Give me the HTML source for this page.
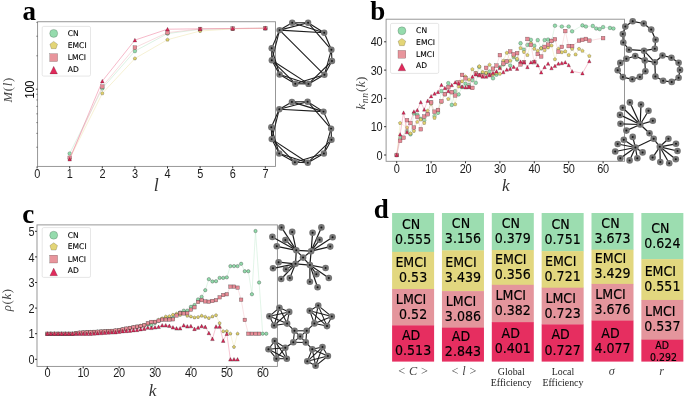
<!DOCTYPE html>
<html lang="en">
<head>
<meta charset="utf-8">
<title>Network metrics figure</title>
<style>
html,body{margin:0;padding:0;background:#fff;}
body{width:685px;height:398px;overflow:hidden;}
svg{display:block;}
</style>
</head>
<body>
<svg width="685" height="398" viewBox="0 0 685 398" role="img" aria-label="Network metrics for CN, EMCI, LMCI and AD groups">
<rect width="685" height="398" fill="#fff"/>
<g id="panel-a">
<rect x="37.6" y="21.75" width="237.85" height="144.65" fill="none" stroke="#8c8c8c" stroke-width="0.9"/>
<line x1="37.10" y1="166.4" x2="37.10" y2="168.4" stroke="#1a1a1a" stroke-width="0.9"/>
<text transform="translate(37.10,178.2) scale(0.92,1)" text-anchor="middle" letter-spacing="-0.3" font-family='"Liberation Sans","DejaVu Sans",sans-serif' font-size="11.9" fill="#1c1c1c">0</text>
<line x1="69.70" y1="166.4" x2="69.70" y2="168.4" stroke="#1a1a1a" stroke-width="0.9"/>
<text transform="translate(69.70,178.2) scale(0.92,1)" text-anchor="middle" letter-spacing="-0.3" font-family='"Liberation Sans","DejaVu Sans",sans-serif' font-size="11.9" fill="#1c1c1c">1</text>
<line x1="102.30" y1="166.4" x2="102.30" y2="168.4" stroke="#1a1a1a" stroke-width="0.9"/>
<text transform="translate(102.30,178.2) scale(0.92,1)" text-anchor="middle" letter-spacing="-0.3" font-family='"Liberation Sans","DejaVu Sans",sans-serif' font-size="11.9" fill="#1c1c1c">2</text>
<line x1="134.90" y1="166.4" x2="134.90" y2="168.4" stroke="#1a1a1a" stroke-width="0.9"/>
<text transform="translate(134.90,178.2) scale(0.92,1)" text-anchor="middle" letter-spacing="-0.3" font-family='"Liberation Sans","DejaVu Sans",sans-serif' font-size="11.9" fill="#1c1c1c">3</text>
<line x1="167.50" y1="166.4" x2="167.50" y2="168.4" stroke="#1a1a1a" stroke-width="0.9"/>
<text transform="translate(167.50,178.2) scale(0.92,1)" text-anchor="middle" letter-spacing="-0.3" font-family='"Liberation Sans","DejaVu Sans",sans-serif' font-size="11.9" fill="#1c1c1c">4</text>
<line x1="200.10" y1="166.4" x2="200.10" y2="168.4" stroke="#1a1a1a" stroke-width="0.9"/>
<text transform="translate(200.10,178.2) scale(0.92,1)" text-anchor="middle" letter-spacing="-0.3" font-family='"Liberation Sans","DejaVu Sans",sans-serif' font-size="11.9" fill="#1c1c1c">5</text>
<line x1="232.70" y1="166.4" x2="232.70" y2="168.4" stroke="#1a1a1a" stroke-width="0.9"/>
<text transform="translate(232.70,178.2) scale(0.92,1)" text-anchor="middle" letter-spacing="-0.3" font-family='"Liberation Sans","DejaVu Sans",sans-serif' font-size="11.9" fill="#1c1c1c">6</text>
<line x1="265.30" y1="166.4" x2="265.30" y2="168.4" stroke="#1a1a1a" stroke-width="0.9"/>
<text transform="translate(265.30,178.2) scale(0.92,1)" text-anchor="middle" letter-spacing="-0.3" font-family='"Liberation Sans","DejaVu Sans",sans-serif' font-size="11.9" fill="#1c1c1c">7</text>
<line x1="36.300000000000004" y1="147.24" x2="37.6" y2="147.24" stroke="#333" stroke-width="0.6"/>
<line x1="36.300000000000004" y1="133.37" x2="37.6" y2="133.37" stroke="#333" stroke-width="0.6"/>
<line x1="36.300000000000004" y1="122.61" x2="37.6" y2="122.61" stroke="#333" stroke-width="0.6"/>
<line x1="36.300000000000004" y1="113.83" x2="37.6" y2="113.83" stroke="#333" stroke-width="0.6"/>
<line x1="36.300000000000004" y1="106.39" x2="37.6" y2="106.39" stroke="#333" stroke-width="0.6"/>
<line x1="36.300000000000004" y1="99.96" x2="37.6" y2="99.96" stroke="#333" stroke-width="0.6"/>
<line x1="36.300000000000004" y1="94.28" x2="37.6" y2="94.28" stroke="#333" stroke-width="0.6"/>
<line x1="36.300000000000004" y1="55.79" x2="37.6" y2="55.79" stroke="#333" stroke-width="0.6"/>
<line x1="36.300000000000004" y1="36.24" x2="37.6" y2="36.24" stroke="#333" stroke-width="0.6"/>
<line x1="36.300000000000004" y1="22.37" x2="37.6" y2="22.37" stroke="#333" stroke-width="0.6"/>
<line x1="35.9" y1="89.20" x2="37.6" y2="89.20" stroke="#222" stroke-width="0.8"/>
<text transform="translate(33.8,89.7) rotate(-90) scale(0.92,1)" text-anchor="middle" font-family='"Liberation Sans","DejaVu Sans",sans-serif' font-size="11.9" letter-spacing="-0.3" fill="#000">100</text>
<text transform="translate(11.7,89.8) rotate(-90)" text-anchor="middle" letter-spacing="0.7" font-family='"Liberation Serif","DejaVu Serif",serif' font-style="italic" font-size="12.6" fill="#444">M<tspan font-style="normal">(</tspan>l<tspan font-style="normal">)</tspan></text>
<text x="156.2" y="191.3" text-anchor="middle" font-family='"Liberation Serif","DejaVu Serif",serif' font-style="italic" font-size="18" fill="#333">l</text>
<polyline points="69.70,153.50 102.30,88.40 134.90,51.10 167.50,33.60 200.10,29.30 232.70,28.60 265.30,28.20" fill="none" stroke="#bfe8cc" stroke-width="0.55"/>
<circle cx="69.70" cy="153.50" r="1.85" fill="#93dbac" stroke="#000" stroke-opacity="0.5" stroke-width="0.4"/>
<circle cx="102.30" cy="88.40" r="1.85" fill="#93dbac" stroke="#000" stroke-opacity="0.5" stroke-width="0.4"/>
<circle cx="134.90" cy="51.10" r="1.85" fill="#93dbac" stroke="#000" stroke-opacity="0.5" stroke-width="0.4"/>
<circle cx="167.50" cy="33.60" r="1.85" fill="#93dbac" stroke="#000" stroke-opacity="0.5" stroke-width="0.4"/>
<circle cx="200.10" cy="29.30" r="1.85" fill="#93dbac" stroke="#000" stroke-opacity="0.5" stroke-width="0.4"/>
<circle cx="232.70" cy="28.60" r="1.85" fill="#93dbac" stroke="#000" stroke-opacity="0.5" stroke-width="0.4"/>
<circle cx="265.30" cy="28.20" r="1.85" fill="#93dbac" stroke="#000" stroke-opacity="0.5" stroke-width="0.4"/>
<polyline points="69.70,158.60 102.30,93.40 134.90,58.50 167.50,39.70 200.10,31.00 232.70,28.90 265.30,28.30" fill="none" stroke="#eee6b0" stroke-width="0.55"/>
<polygon points="69.70,156.79 71.42,158.04 70.77,160.07 68.63,160.07 67.98,158.04" fill="#e2d26c" stroke="#000" stroke-opacity="0.5" stroke-width="0.4"/>
<polygon points="102.30,91.59 104.02,92.84 103.37,94.87 101.23,94.87 100.58,92.84" fill="#e2d26c" stroke="#000" stroke-opacity="0.5" stroke-width="0.4"/>
<polygon points="134.90,56.69 136.62,57.94 135.97,59.97 133.83,59.97 133.18,57.94" fill="#e2d26c" stroke="#000" stroke-opacity="0.5" stroke-width="0.4"/>
<polygon points="167.50,37.89 169.22,39.14 168.57,41.17 166.43,41.17 165.78,39.14" fill="#e2d26c" stroke="#000" stroke-opacity="0.5" stroke-width="0.4"/>
<polygon points="200.10,29.19 201.82,30.44 201.17,32.47 199.03,32.47 198.38,30.44" fill="#e2d26c" stroke="#000" stroke-opacity="0.5" stroke-width="0.4"/>
<polygon points="232.70,27.09 234.42,28.34 233.77,30.37 231.63,30.37 230.98,28.34" fill="#e2d26c" stroke="#000" stroke-opacity="0.5" stroke-width="0.4"/>
<polygon points="265.30,26.49 267.02,27.74 266.37,29.77 264.23,29.77 263.58,27.74" fill="#e2d26c" stroke="#000" stroke-opacity="0.5" stroke-width="0.4"/>
<polyline points="69.70,157.80 102.30,86.60 134.90,47.60 167.50,32.60 200.10,29.00 232.70,28.50 265.30,28.20" fill="none" stroke="#f2bfc4" stroke-width="0.55"/>
<rect x="67.85" y="155.95" width="3.70" height="3.70" fill="#e78b96" stroke="#000" stroke-opacity="0.5" stroke-width="0.4"/>
<rect x="100.45" y="84.75" width="3.70" height="3.70" fill="#e78b96" stroke="#000" stroke-opacity="0.5" stroke-width="0.4"/>
<rect x="133.05" y="45.75" width="3.70" height="3.70" fill="#e78b96" stroke="#000" stroke-opacity="0.5" stroke-width="0.4"/>
<rect x="165.65" y="30.75" width="3.70" height="3.70" fill="#e78b96" stroke="#000" stroke-opacity="0.5" stroke-width="0.4"/>
<rect x="198.25" y="27.15" width="3.70" height="3.70" fill="#e78b96" stroke="#000" stroke-opacity="0.5" stroke-width="0.4"/>
<rect x="230.85" y="26.65" width="3.70" height="3.70" fill="#e78b96" stroke="#000" stroke-opacity="0.5" stroke-width="0.4"/>
<rect x="263.45" y="26.35" width="3.70" height="3.70" fill="#e78b96" stroke="#000" stroke-opacity="0.5" stroke-width="0.4"/>
<polyline points="69.70,159.20 102.30,81.10 134.90,40.10 167.50,29.20 200.10,28.80 232.70,28.50 265.30,28.20" fill="none" stroke="#ee7f9c" stroke-width="0.55"/>
<polygon points="69.70,157.35 67.85,161.05 71.55,161.05" fill="#de2758" stroke="#000" stroke-opacity="0.5" stroke-width="0.4"/>
<polygon points="102.30,79.25 100.45,82.95 104.15,82.95" fill="#de2758" stroke="#000" stroke-opacity="0.5" stroke-width="0.4"/>
<polygon points="134.90,38.25 133.05,41.95 136.75,41.95" fill="#de2758" stroke="#000" stroke-opacity="0.5" stroke-width="0.4"/>
<polygon points="167.50,27.35 165.65,31.05 169.35,31.05" fill="#de2758" stroke="#000" stroke-opacity="0.5" stroke-width="0.4"/>
<polygon points="200.10,26.95 198.25,30.65 201.95,30.65" fill="#de2758" stroke="#000" stroke-opacity="0.5" stroke-width="0.4"/>
<polygon points="232.70,26.65 230.85,30.35 234.55,30.35" fill="#de2758" stroke="#000" stroke-opacity="0.5" stroke-width="0.4"/>
<polygon points="265.30,26.35 263.45,30.05 267.15,30.05" fill="#de2758" stroke="#000" stroke-opacity="0.5" stroke-width="0.4"/>
<rect x="42.2" y="26.4" width="48.3" height="49.699999999999996" rx="1.5" fill="#fff" fill-opacity="0.8" stroke="#dcdcdc" stroke-width="0.7"/>
<circle cx="53.70" cy="33.40" r="4.00" fill="#95dbad" stroke="#000" stroke-opacity="0.5" stroke-width="0.35"/>
<text transform="translate(67.8,35.84) scale(0.96,1)" font-family='"DejaVu Sans","Liberation Sans",sans-serif' font-size="7.9" fill="#000" stroke="#000" stroke-width="0.12">CN</text>
<polygon points="53.70,41.38 57.52,44.16 56.06,48.65 51.34,48.65 49.88,44.16" fill="#e3d577" stroke="#000" stroke-opacity="0.5" stroke-width="0.35"/>
<text transform="translate(67.8,47.84) scale(0.96,1)" font-family='"DejaVu Sans","Liberation Sans",sans-serif' font-size="7.9" fill="#000" stroke="#000" stroke-width="0.12">EMCI</text>
<rect x="49.80" y="53.70" width="7.80" height="7.80" fill="#e8959c" stroke="#000" stroke-opacity="0.5" stroke-width="0.35"/>
<text transform="translate(67.8,60.04) scale(0.96,1)" font-family='"DejaVu Sans","Liberation Sans",sans-serif' font-size="7.9" fill="#000" stroke="#000" stroke-width="0.12">LMCI</text>
<polygon points="53.70,66.30 49.90,73.90 57.50,73.90" fill="#e02a5b" stroke="#000" stroke-opacity="0.5" stroke-width="0.35"/>
<text transform="translate(67.8,71.54) scale(0.96,1)" font-family='"DejaVu Sans","Liberation Sans",sans-serif' font-size="7.9" fill="#000" stroke="#000" stroke-width="0.12">AD</text>
<text x="22.4" y="20.3" font-family='"Liberation Serif","DejaVu Serif",serif' font-weight="bold" font-size="27" fill="#000">a</text>
<line x1="292.2" y1="22.8" x2="308.1" y2="22.8" stroke="#1c1c1c" stroke-width="1.1"/>
<line x1="279.6" y1="30.1" x2="292.2" y2="22.8" stroke="#1c1c1c" stroke-width="1.1"/>
<line x1="279.6" y1="30.1" x2="308.1" y2="22.8" stroke="#1c1c1c" stroke-width="1.1"/>
<line x1="279.6" y1="30.1" x2="324.2" y2="32.8" stroke="#1c1c1c" stroke-width="1.1"/>
<line x1="292.2" y1="22.8" x2="324.2" y2="32.8" stroke="#1c1c1c" stroke-width="1.1"/>
<line x1="308.1" y1="22.8" x2="324.2" y2="32.8" stroke="#1c1c1c" stroke-width="1.1"/>
<line x1="308.1" y1="22.8" x2="331.4" y2="49.8" stroke="#1c1c1c" stroke-width="1.1"/>
<line x1="324.2" y1="32.8" x2="331.4" y2="49.8" stroke="#1c1c1c" stroke-width="1.1"/>
<line x1="279.6" y1="30.1" x2="271.7" y2="48.3" stroke="#1c1c1c" stroke-width="1.1"/>
<line x1="279.6" y1="30.1" x2="271.8" y2="60.3" stroke="#1c1c1c" stroke-width="1.1"/>
<line x1="279.6" y1="30.1" x2="324.4" y2="74.8" stroke="#1c1c1c" stroke-width="1.1"/>
<line x1="271.7" y1="48.3" x2="271.8" y2="60.3" stroke="#1c1c1c" stroke-width="1.1"/>
<line x1="271.7" y1="48.3" x2="279.6" y2="74.5" stroke="#1c1c1c" stroke-width="1.1"/>
<line x1="271.8" y1="60.3" x2="279.6" y2="74.5" stroke="#1c1c1c" stroke-width="1.1"/>
<line x1="271.8" y1="60.3" x2="295.3" y2="83.7" stroke="#1c1c1c" stroke-width="1.1"/>
<line x1="271.8" y1="60.3" x2="308.5" y2="83.9" stroke="#1c1c1c" stroke-width="1.1"/>
<line x1="279.6" y1="74.5" x2="295.3" y2="83.7" stroke="#1c1c1c" stroke-width="1.1"/>
<line x1="279.6" y1="74.5" x2="308.5" y2="83.9" stroke="#1c1c1c" stroke-width="1.1"/>
<line x1="295.3" y1="83.7" x2="308.5" y2="83.9" stroke="#1c1c1c" stroke-width="1.1"/>
<line x1="295.3" y1="83.7" x2="324.4" y2="74.8" stroke="#1c1c1c" stroke-width="1.1"/>
<line x1="308.5" y1="83.9" x2="324.4" y2="74.8" stroke="#1c1c1c" stroke-width="1.1"/>
<line x1="308.5" y1="83.9" x2="332" y2="61" stroke="#1c1c1c" stroke-width="1.1"/>
<line x1="324.4" y1="74.8" x2="332" y2="61" stroke="#1c1c1c" stroke-width="1.1"/>
<line x1="324.4" y1="74.8" x2="331.4" y2="49.8" stroke="#1c1c1c" stroke-width="1.1"/>
<line x1="332" y1="61" x2="331.4" y2="49.8" stroke="#1c1c1c" stroke-width="1.1"/>
<circle cx="292.2" cy="22.8" r="3.2" fill="#757575"/>
<circle cx="292.2" cy="22.8" r="0.96" fill="#161616"/>
<circle cx="308.1" cy="22.8" r="3.2" fill="#757575"/>
<circle cx="308.1" cy="22.8" r="0.96" fill="#161616"/>
<circle cx="279.6" cy="30.1" r="3.2" fill="#757575"/>
<circle cx="279.6" cy="30.1" r="0.96" fill="#161616"/>
<circle cx="324.2" cy="32.8" r="3.2" fill="#757575"/>
<circle cx="324.2" cy="32.8" r="0.96" fill="#161616"/>
<circle cx="271.7" cy="48.3" r="3.2" fill="#757575"/>
<circle cx="271.7" cy="48.3" r="0.96" fill="#161616"/>
<circle cx="331.4" cy="49.8" r="3.2" fill="#757575"/>
<circle cx="331.4" cy="49.8" r="0.96" fill="#161616"/>
<circle cx="271.8" cy="60.3" r="3.2" fill="#757575"/>
<circle cx="271.8" cy="60.3" r="0.96" fill="#161616"/>
<circle cx="332" cy="61" r="3.2" fill="#757575"/>
<circle cx="332" cy="61" r="0.96" fill="#161616"/>
<circle cx="279.6" cy="74.5" r="3.2" fill="#757575"/>
<circle cx="279.6" cy="74.5" r="0.96" fill="#161616"/>
<circle cx="324.4" cy="74.8" r="3.2" fill="#757575"/>
<circle cx="324.4" cy="74.8" r="0.96" fill="#161616"/>
<circle cx="295.3" cy="83.7" r="3.2" fill="#757575"/>
<circle cx="295.3" cy="83.7" r="0.96" fill="#161616"/>
<circle cx="308.5" cy="83.9" r="3.2" fill="#757575"/>
<circle cx="308.5" cy="83.9" r="0.96" fill="#161616"/>
<line x1="291.9" y1="101.9" x2="307.6" y2="101.7" stroke="#1c1c1c" stroke-width="1.1"/>
<line x1="279.3" y1="109.2" x2="291.9" y2="101.9" stroke="#1c1c1c" stroke-width="1.1"/>
<line x1="279.3" y1="109.2" x2="307.6" y2="101.7" stroke="#1c1c1c" stroke-width="1.1"/>
<line x1="279.3" y1="109.2" x2="323.5" y2="111.6" stroke="#1c1c1c" stroke-width="1.1"/>
<line x1="291.9" y1="101.9" x2="323.5" y2="111.6" stroke="#1c1c1c" stroke-width="1.1"/>
<line x1="307.6" y1="101.7" x2="323.5" y2="111.6" stroke="#1c1c1c" stroke-width="1.1"/>
<line x1="307.6" y1="101.7" x2="331.1" y2="128.6" stroke="#1c1c1c" stroke-width="1.1"/>
<line x1="323.5" y1="111.6" x2="331.1" y2="128.6" stroke="#1c1c1c" stroke-width="1.1"/>
<line x1="279.3" y1="109.2" x2="271.3" y2="127.3" stroke="#1c1c1c" stroke-width="1.1"/>
<line x1="279.3" y1="109.2" x2="271.7" y2="139.1" stroke="#1c1c1c" stroke-width="1.1"/>
<line x1="271.3" y1="127.3" x2="271.7" y2="139.1" stroke="#1c1c1c" stroke-width="1.1"/>
<line x1="271.3" y1="127.3" x2="279.2" y2="153.5" stroke="#1c1c1c" stroke-width="1.1"/>
<line x1="271.7" y1="139.1" x2="279.2" y2="153.5" stroke="#1c1c1c" stroke-width="1.1"/>
<line x1="271.7" y1="139.1" x2="294.9" y2="162.3" stroke="#1c1c1c" stroke-width="1.1"/>
<line x1="271.7" y1="139.1" x2="307.8" y2="162.7" stroke="#1c1c1c" stroke-width="1.1"/>
<line x1="279.2" y1="153.5" x2="294.9" y2="162.3" stroke="#1c1c1c" stroke-width="1.1"/>
<line x1="279.2" y1="153.5" x2="307.8" y2="162.7" stroke="#1c1c1c" stroke-width="1.1"/>
<line x1="294.9" y1="162.3" x2="307.8" y2="162.7" stroke="#1c1c1c" stroke-width="1.1"/>
<line x1="294.9" y1="162.3" x2="323.9" y2="153.5" stroke="#1c1c1c" stroke-width="1.1"/>
<line x1="307.8" y1="162.7" x2="323.9" y2="153.5" stroke="#1c1c1c" stroke-width="1.1"/>
<line x1="307.8" y1="162.7" x2="331.5" y2="139.8" stroke="#1c1c1c" stroke-width="1.1"/>
<line x1="323.9" y1="153.5" x2="331.5" y2="139.8" stroke="#1c1c1c" stroke-width="1.1"/>
<line x1="323.9" y1="153.5" x2="331.1" y2="128.6" stroke="#1c1c1c" stroke-width="1.1"/>
<line x1="331.5" y1="139.8" x2="331.1" y2="128.6" stroke="#1c1c1c" stroke-width="1.1"/>
<circle cx="291.9" cy="101.9" r="3.2" fill="#757575"/>
<circle cx="291.9" cy="101.9" r="0.96" fill="#161616"/>
<circle cx="307.6" cy="101.7" r="3.2" fill="#757575"/>
<circle cx="307.6" cy="101.7" r="0.96" fill="#161616"/>
<circle cx="279.3" cy="109.2" r="3.2" fill="#757575"/>
<circle cx="279.3" cy="109.2" r="0.96" fill="#161616"/>
<circle cx="323.5" cy="111.6" r="3.2" fill="#757575"/>
<circle cx="323.5" cy="111.6" r="0.96" fill="#161616"/>
<circle cx="271.3" cy="127.3" r="3.2" fill="#757575"/>
<circle cx="271.3" cy="127.3" r="0.96" fill="#161616"/>
<circle cx="331.1" cy="128.6" r="3.2" fill="#757575"/>
<circle cx="331.1" cy="128.6" r="0.96" fill="#161616"/>
<circle cx="271.7" cy="139.1" r="3.2" fill="#757575"/>
<circle cx="271.7" cy="139.1" r="0.96" fill="#161616"/>
<circle cx="331.5" cy="139.8" r="3.2" fill="#757575"/>
<circle cx="331.5" cy="139.8" r="0.96" fill="#161616"/>
<circle cx="279.2" cy="153.5" r="3.2" fill="#757575"/>
<circle cx="279.2" cy="153.5" r="0.96" fill="#161616"/>
<circle cx="323.9" cy="153.5" r="3.2" fill="#757575"/>
<circle cx="323.9" cy="153.5" r="0.96" fill="#161616"/>
<circle cx="294.9" cy="162.3" r="3.2" fill="#757575"/>
<circle cx="294.9" cy="162.3" r="0.96" fill="#161616"/>
<circle cx="307.8" cy="162.7" r="3.2" fill="#757575"/>
<circle cx="307.8" cy="162.7" r="0.96" fill="#161616"/>
</g>
<g id="panel-b">
<rect x="386.1" y="19.2" width="238.39999999999998" height="142.10000000000002" fill="none" stroke="#8c8c8c" stroke-width="0.9"/>
<line x1="396.70" y1="161.3" x2="396.70" y2="163.3" stroke="#1a1a1a" stroke-width="0.9"/>
<text transform="translate(396.70,173.2) scale(0.92,1)" text-anchor="middle" letter-spacing="-0.3" font-family='"Liberation Sans","DejaVu Sans",sans-serif' font-size="11.9" fill="#1c1c1c">0</text>
<line x1="431.10" y1="161.3" x2="431.10" y2="163.3" stroke="#1a1a1a" stroke-width="0.9"/>
<text transform="translate(431.10,173.2) scale(0.92,1)" text-anchor="middle" letter-spacing="-0.3" font-family='"Liberation Sans","DejaVu Sans",sans-serif' font-size="11.9" fill="#1c1c1c">10</text>
<line x1="465.50" y1="161.3" x2="465.50" y2="163.3" stroke="#1a1a1a" stroke-width="0.9"/>
<text transform="translate(465.50,173.2) scale(0.92,1)" text-anchor="middle" letter-spacing="-0.3" font-family='"Liberation Sans","DejaVu Sans",sans-serif' font-size="11.9" fill="#1c1c1c">20</text>
<line x1="499.90" y1="161.3" x2="499.90" y2="163.3" stroke="#1a1a1a" stroke-width="0.9"/>
<text transform="translate(499.90,173.2) scale(0.92,1)" text-anchor="middle" letter-spacing="-0.3" font-family='"Liberation Sans","DejaVu Sans",sans-serif' font-size="11.9" fill="#1c1c1c">30</text>
<line x1="534.30" y1="161.3" x2="534.30" y2="163.3" stroke="#1a1a1a" stroke-width="0.9"/>
<text transform="translate(534.30,173.2) scale(0.92,1)" text-anchor="middle" letter-spacing="-0.3" font-family='"Liberation Sans","DejaVu Sans",sans-serif' font-size="11.9" fill="#1c1c1c">40</text>
<line x1="568.70" y1="161.3" x2="568.70" y2="163.3" stroke="#1a1a1a" stroke-width="0.9"/>
<text transform="translate(568.70,173.2) scale(0.92,1)" text-anchor="middle" letter-spacing="-0.3" font-family='"Liberation Sans","DejaVu Sans",sans-serif' font-size="11.9" fill="#1c1c1c">50</text>
<line x1="603.10" y1="161.3" x2="603.10" y2="163.3" stroke="#1a1a1a" stroke-width="0.9"/>
<text transform="translate(603.10,173.2) scale(0.92,1)" text-anchor="middle" letter-spacing="-0.3" font-family='"Liberation Sans","DejaVu Sans",sans-serif' font-size="11.9" fill="#1c1c1c">60</text>
<line x1="384.1" y1="155.00" x2="386.1" y2="155.00" stroke="#1a1a1a" stroke-width="0.9"/>
<text transform="translate(382.3,159.62) scale(0.92,1)" text-anchor="end" letter-spacing="-0.3" font-family='"Liberation Sans","DejaVu Sans",sans-serif' font-size="11.9" fill="#1c1c1c">0</text>
<line x1="384.1" y1="126.70" x2="386.1" y2="126.70" stroke="#1a1a1a" stroke-width="0.9"/>
<text transform="translate(382.3,131.32) scale(0.92,1)" text-anchor="end" letter-spacing="-0.3" font-family='"Liberation Sans","DejaVu Sans",sans-serif' font-size="11.9" fill="#1c1c1c">10</text>
<line x1="384.1" y1="98.40" x2="386.1" y2="98.40" stroke="#1a1a1a" stroke-width="0.9"/>
<text transform="translate(382.3,103.02) scale(0.92,1)" text-anchor="end" letter-spacing="-0.3" font-family='"Liberation Sans","DejaVu Sans",sans-serif' font-size="11.9" fill="#1c1c1c">20</text>
<line x1="384.1" y1="70.10" x2="386.1" y2="70.10" stroke="#1a1a1a" stroke-width="0.9"/>
<text transform="translate(382.3,74.72) scale(0.92,1)" text-anchor="end" letter-spacing="-0.3" font-family='"Liberation Sans","DejaVu Sans",sans-serif' font-size="11.9" fill="#1c1c1c">30</text>
<line x1="384.1" y1="41.80" x2="386.1" y2="41.80" stroke="#1a1a1a" stroke-width="0.9"/>
<text transform="translate(382.3,46.42) scale(0.92,1)" text-anchor="end" letter-spacing="-0.3" font-family='"Liberation Sans","DejaVu Sans",sans-serif' font-size="11.9" fill="#1c1c1c">40</text>
<text x="505.7" y="190.6" text-anchor="middle" font-family='"Liberation Serif","DejaVu Serif",serif' font-style="italic" font-size="17.2" fill="#333">k</text>
<text transform="translate(365.2,92.8) rotate(-90)" text-anchor="middle" letter-spacing="0.5" font-family='"Liberation Serif","DejaVu Serif",serif' font-style="italic" font-size="13" fill="#444">k<tspan font-size="9.6" dy="2.6" letter-spacing="0.8">nn</tspan><tspan font-style="normal" dy="-2.6">(</tspan>k<tspan font-style="normal">)</tspan></text>
<polyline points="396.70,155.00 400.14,138.02 407.02,130.94 410.46,134.34 413.90,113.40 417.34,114.81 420.78,118.78 424.22,120.19 427.66,113.97 431.10,102.36 434.54,115.95 437.98,112.83 441.42,91.04 444.86,94.16 448.30,83.12 451.74,104.91 455.18,91.04 458.62,94.44 462.06,87.08 465.50,83.68 468.94,84.82 472.38,80.29 475.82,82.83 479.26,66.99 482.70,72.93 486.14,72.93 489.58,71.52 493.02,78.31 496.46,74.63 499.90,67.27 503.34,64.44 506.78,61.61 510.22,65.57 513.66,57.08 517.10,59.63 520.54,43.22 523.98,49.72 527.42,44.91 530.86,39.82 534.30,45.76 537.74,40.10 541.18,48.31 544.62,40.10 548.06,39.54 551.50,40.95 554.94,25.67 561.82,26.52 568.70,26.52 572.14,31.33 582.46,25.39 585.90,26.52 592.78,25.95 596.22,28.50 599.66,29.06 603.10,27.08 609.98,27.93 613.42,28.50" fill="none" stroke="#bfe8cc" stroke-width="0.45"/>
<circle cx="396.70" cy="155.00" r="1.85" fill="#93dbac" stroke="#000" stroke-opacity="0.5" stroke-width="0.4"/>
<circle cx="400.14" cy="138.02" r="1.85" fill="#93dbac" stroke="#000" stroke-opacity="0.5" stroke-width="0.4"/>
<circle cx="407.02" cy="130.94" r="1.85" fill="#93dbac" stroke="#000" stroke-opacity="0.5" stroke-width="0.4"/>
<circle cx="410.46" cy="134.34" r="1.85" fill="#93dbac" stroke="#000" stroke-opacity="0.5" stroke-width="0.4"/>
<circle cx="413.90" cy="113.40" r="1.85" fill="#93dbac" stroke="#000" stroke-opacity="0.5" stroke-width="0.4"/>
<circle cx="417.34" cy="114.81" r="1.85" fill="#93dbac" stroke="#000" stroke-opacity="0.5" stroke-width="0.4"/>
<circle cx="420.78" cy="118.78" r="1.85" fill="#93dbac" stroke="#000" stroke-opacity="0.5" stroke-width="0.4"/>
<circle cx="424.22" cy="120.19" r="1.85" fill="#93dbac" stroke="#000" stroke-opacity="0.5" stroke-width="0.4"/>
<circle cx="427.66" cy="113.97" r="1.85" fill="#93dbac" stroke="#000" stroke-opacity="0.5" stroke-width="0.4"/>
<circle cx="431.10" cy="102.36" r="1.85" fill="#93dbac" stroke="#000" stroke-opacity="0.5" stroke-width="0.4"/>
<circle cx="434.54" cy="115.95" r="1.85" fill="#93dbac" stroke="#000" stroke-opacity="0.5" stroke-width="0.4"/>
<circle cx="437.98" cy="112.83" r="1.85" fill="#93dbac" stroke="#000" stroke-opacity="0.5" stroke-width="0.4"/>
<circle cx="441.42" cy="91.04" r="1.85" fill="#93dbac" stroke="#000" stroke-opacity="0.5" stroke-width="0.4"/>
<circle cx="444.86" cy="94.16" r="1.85" fill="#93dbac" stroke="#000" stroke-opacity="0.5" stroke-width="0.4"/>
<circle cx="448.30" cy="83.12" r="1.85" fill="#93dbac" stroke="#000" stroke-opacity="0.5" stroke-width="0.4"/>
<circle cx="451.74" cy="104.91" r="1.85" fill="#93dbac" stroke="#000" stroke-opacity="0.5" stroke-width="0.4"/>
<circle cx="455.18" cy="91.04" r="1.85" fill="#93dbac" stroke="#000" stroke-opacity="0.5" stroke-width="0.4"/>
<circle cx="458.62" cy="94.44" r="1.85" fill="#93dbac" stroke="#000" stroke-opacity="0.5" stroke-width="0.4"/>
<circle cx="462.06" cy="87.08" r="1.85" fill="#93dbac" stroke="#000" stroke-opacity="0.5" stroke-width="0.4"/>
<circle cx="465.50" cy="83.68" r="1.85" fill="#93dbac" stroke="#000" stroke-opacity="0.5" stroke-width="0.4"/>
<circle cx="468.94" cy="84.82" r="1.85" fill="#93dbac" stroke="#000" stroke-opacity="0.5" stroke-width="0.4"/>
<circle cx="472.38" cy="80.29" r="1.85" fill="#93dbac" stroke="#000" stroke-opacity="0.5" stroke-width="0.4"/>
<circle cx="475.82" cy="82.83" r="1.85" fill="#93dbac" stroke="#000" stroke-opacity="0.5" stroke-width="0.4"/>
<circle cx="479.26" cy="66.99" r="1.85" fill="#93dbac" stroke="#000" stroke-opacity="0.5" stroke-width="0.4"/>
<circle cx="482.70" cy="72.93" r="1.85" fill="#93dbac" stroke="#000" stroke-opacity="0.5" stroke-width="0.4"/>
<circle cx="486.14" cy="72.93" r="1.85" fill="#93dbac" stroke="#000" stroke-opacity="0.5" stroke-width="0.4"/>
<circle cx="489.58" cy="71.52" r="1.85" fill="#93dbac" stroke="#000" stroke-opacity="0.5" stroke-width="0.4"/>
<circle cx="493.02" cy="78.31" r="1.85" fill="#93dbac" stroke="#000" stroke-opacity="0.5" stroke-width="0.4"/>
<circle cx="496.46" cy="74.63" r="1.85" fill="#93dbac" stroke="#000" stroke-opacity="0.5" stroke-width="0.4"/>
<circle cx="499.90" cy="67.27" r="1.85" fill="#93dbac" stroke="#000" stroke-opacity="0.5" stroke-width="0.4"/>
<circle cx="503.34" cy="64.44" r="1.85" fill="#93dbac" stroke="#000" stroke-opacity="0.5" stroke-width="0.4"/>
<circle cx="506.78" cy="61.61" r="1.85" fill="#93dbac" stroke="#000" stroke-opacity="0.5" stroke-width="0.4"/>
<circle cx="510.22" cy="65.57" r="1.85" fill="#93dbac" stroke="#000" stroke-opacity="0.5" stroke-width="0.4"/>
<circle cx="513.66" cy="57.08" r="1.85" fill="#93dbac" stroke="#000" stroke-opacity="0.5" stroke-width="0.4"/>
<circle cx="517.10" cy="59.63" r="1.85" fill="#93dbac" stroke="#000" stroke-opacity="0.5" stroke-width="0.4"/>
<circle cx="520.54" cy="43.22" r="1.85" fill="#93dbac" stroke="#000" stroke-opacity="0.5" stroke-width="0.4"/>
<circle cx="523.98" cy="49.72" r="1.85" fill="#93dbac" stroke="#000" stroke-opacity="0.5" stroke-width="0.4"/>
<circle cx="527.42" cy="44.91" r="1.85" fill="#93dbac" stroke="#000" stroke-opacity="0.5" stroke-width="0.4"/>
<circle cx="530.86" cy="39.82" r="1.85" fill="#93dbac" stroke="#000" stroke-opacity="0.5" stroke-width="0.4"/>
<circle cx="534.30" cy="45.76" r="1.85" fill="#93dbac" stroke="#000" stroke-opacity="0.5" stroke-width="0.4"/>
<circle cx="537.74" cy="40.10" r="1.85" fill="#93dbac" stroke="#000" stroke-opacity="0.5" stroke-width="0.4"/>
<circle cx="541.18" cy="48.31" r="1.85" fill="#93dbac" stroke="#000" stroke-opacity="0.5" stroke-width="0.4"/>
<circle cx="544.62" cy="40.10" r="1.85" fill="#93dbac" stroke="#000" stroke-opacity="0.5" stroke-width="0.4"/>
<circle cx="548.06" cy="39.54" r="1.85" fill="#93dbac" stroke="#000" stroke-opacity="0.5" stroke-width="0.4"/>
<circle cx="551.50" cy="40.95" r="1.85" fill="#93dbac" stroke="#000" stroke-opacity="0.5" stroke-width="0.4"/>
<circle cx="554.94" cy="25.67" r="1.85" fill="#93dbac" stroke="#000" stroke-opacity="0.5" stroke-width="0.4"/>
<circle cx="561.82" cy="26.52" r="1.85" fill="#93dbac" stroke="#000" stroke-opacity="0.5" stroke-width="0.4"/>
<circle cx="568.70" cy="26.52" r="1.85" fill="#93dbac" stroke="#000" stroke-opacity="0.5" stroke-width="0.4"/>
<circle cx="572.14" cy="31.33" r="1.85" fill="#93dbac" stroke="#000" stroke-opacity="0.5" stroke-width="0.4"/>
<circle cx="582.46" cy="25.39" r="1.85" fill="#93dbac" stroke="#000" stroke-opacity="0.5" stroke-width="0.4"/>
<circle cx="585.90" cy="26.52" r="1.85" fill="#93dbac" stroke="#000" stroke-opacity="0.5" stroke-width="0.4"/>
<circle cx="592.78" cy="25.95" r="1.85" fill="#93dbac" stroke="#000" stroke-opacity="0.5" stroke-width="0.4"/>
<circle cx="596.22" cy="28.50" r="1.85" fill="#93dbac" stroke="#000" stroke-opacity="0.5" stroke-width="0.4"/>
<circle cx="599.66" cy="29.06" r="1.85" fill="#93dbac" stroke="#000" stroke-opacity="0.5" stroke-width="0.4"/>
<circle cx="603.10" cy="27.08" r="1.85" fill="#93dbac" stroke="#000" stroke-opacity="0.5" stroke-width="0.4"/>
<circle cx="609.98" cy="27.93" r="1.85" fill="#93dbac" stroke="#000" stroke-opacity="0.5" stroke-width="0.4"/>
<circle cx="613.42" cy="28.50" r="1.85" fill="#93dbac" stroke="#000" stroke-opacity="0.5" stroke-width="0.4"/>
<polyline points="396.70,155.00 400.14,123.02 407.02,127.55 410.46,133.49 413.90,130.94 417.34,121.89 420.78,119.62 424.22,123.02 427.66,110.85 431.10,103.78 434.54,117.93 437.98,110.00 441.42,102.08 444.86,94.44 448.30,98.97 451.74,92.46 455.18,104.34 458.62,86.51 462.06,81.42 465.50,76.61 468.94,79.72 472.38,69.25 475.82,72.93 479.26,66.42 482.70,72.08 486.14,72.93 489.58,64.72 493.02,74.63 496.46,72.93 499.90,73.78 503.34,60.76 506.78,52.84 510.22,60.76 513.66,55.95 517.10,58.78 520.54,48.03 523.98,51.99 527.42,55.10 530.86,43.22 534.30,48.88 537.74,50.86 541.18,48.31 544.62,50.29 548.06,47.46 551.50,45.48 554.94,59.35 558.38,48.88 561.82,52.27 565.26,51.42 568.70,55.10 572.14,48.88 575.58,54.53 579.02,48.88 582.46,50.86 589.34,55.95" fill="none" stroke="#eee6b0" stroke-width="0.45"/>
<polygon points="396.70,153.19 398.42,154.44 397.77,156.47 395.63,156.47 394.98,154.44" fill="#e2d26c" stroke="#000" stroke-opacity="0.5" stroke-width="0.4"/>
<polygon points="400.14,121.21 401.86,122.46 401.21,124.49 399.07,124.49 398.42,122.46" fill="#e2d26c" stroke="#000" stroke-opacity="0.5" stroke-width="0.4"/>
<polygon points="407.02,125.74 408.74,126.99 408.09,129.02 405.95,129.02 405.30,126.99" fill="#e2d26c" stroke="#000" stroke-opacity="0.5" stroke-width="0.4"/>
<polygon points="410.46,131.68 412.18,132.93 411.53,134.96 409.39,134.96 408.74,132.93" fill="#e2d26c" stroke="#000" stroke-opacity="0.5" stroke-width="0.4"/>
<polygon points="413.90,129.13 415.62,130.38 414.97,132.41 412.83,132.41 412.18,130.38" fill="#e2d26c" stroke="#000" stroke-opacity="0.5" stroke-width="0.4"/>
<polygon points="417.34,120.08 419.06,121.33 418.41,123.36 416.27,123.36 415.62,121.33" fill="#e2d26c" stroke="#000" stroke-opacity="0.5" stroke-width="0.4"/>
<polygon points="420.78,117.81 422.50,119.06 421.85,121.09 419.71,121.09 419.06,119.06" fill="#e2d26c" stroke="#000" stroke-opacity="0.5" stroke-width="0.4"/>
<polygon points="424.22,121.21 425.94,122.46 425.29,124.49 423.15,124.49 422.50,122.46" fill="#e2d26c" stroke="#000" stroke-opacity="0.5" stroke-width="0.4"/>
<polygon points="427.66,109.04 429.38,110.29 428.73,112.32 426.59,112.32 425.94,110.29" fill="#e2d26c" stroke="#000" stroke-opacity="0.5" stroke-width="0.4"/>
<polygon points="431.10,101.96 432.82,103.22 432.17,105.24 430.03,105.24 429.38,103.22" fill="#e2d26c" stroke="#000" stroke-opacity="0.5" stroke-width="0.4"/>
<polygon points="434.54,116.11 436.26,117.37 435.61,119.39 433.47,119.39 432.82,117.37" fill="#e2d26c" stroke="#000" stroke-opacity="0.5" stroke-width="0.4"/>
<polygon points="437.98,108.19 439.70,109.44 439.05,111.47 436.91,111.47 436.26,109.44" fill="#e2d26c" stroke="#000" stroke-opacity="0.5" stroke-width="0.4"/>
<polygon points="441.42,100.27 443.14,101.52 442.49,103.55 440.35,103.55 439.70,101.52" fill="#e2d26c" stroke="#000" stroke-opacity="0.5" stroke-width="0.4"/>
<polygon points="444.86,92.62 446.58,93.88 445.93,95.90 443.79,95.90 443.14,93.88" fill="#e2d26c" stroke="#000" stroke-opacity="0.5" stroke-width="0.4"/>
<polygon points="448.30,97.15 450.02,98.41 449.37,100.43 447.23,100.43 446.58,98.41" fill="#e2d26c" stroke="#000" stroke-opacity="0.5" stroke-width="0.4"/>
<polygon points="451.74,90.64 453.46,91.90 452.81,93.92 450.67,93.92 450.02,91.90" fill="#e2d26c" stroke="#000" stroke-opacity="0.5" stroke-width="0.4"/>
<polygon points="455.18,102.53 456.90,103.78 456.25,105.81 454.11,105.81 453.46,103.78" fill="#e2d26c" stroke="#000" stroke-opacity="0.5" stroke-width="0.4"/>
<polygon points="458.62,84.70 460.34,85.95 459.69,87.98 457.55,87.98 456.90,85.95" fill="#e2d26c" stroke="#000" stroke-opacity="0.5" stroke-width="0.4"/>
<polygon points="462.06,79.61 463.78,80.86 463.13,82.89 460.99,82.89 460.34,80.86" fill="#e2d26c" stroke="#000" stroke-opacity="0.5" stroke-width="0.4"/>
<polygon points="465.50,74.80 467.22,76.05 466.57,78.08 464.43,78.08 463.78,76.05" fill="#e2d26c" stroke="#000" stroke-opacity="0.5" stroke-width="0.4"/>
<polygon points="468.94,77.91 470.66,79.16 470.01,81.19 467.87,81.19 467.22,79.16" fill="#e2d26c" stroke="#000" stroke-opacity="0.5" stroke-width="0.4"/>
<polygon points="472.38,67.44 474.10,68.69 473.45,70.72 471.31,70.72 470.66,68.69" fill="#e2d26c" stroke="#000" stroke-opacity="0.5" stroke-width="0.4"/>
<polygon points="475.82,71.12 477.54,72.37 476.89,74.40 474.75,74.40 474.10,72.37" fill="#e2d26c" stroke="#000" stroke-opacity="0.5" stroke-width="0.4"/>
<polygon points="479.26,64.61 480.98,65.86 480.33,67.89 478.19,67.89 477.54,65.86" fill="#e2d26c" stroke="#000" stroke-opacity="0.5" stroke-width="0.4"/>
<polygon points="482.70,70.27 484.42,71.52 483.77,73.55 481.63,73.55 480.98,71.52" fill="#e2d26c" stroke="#000" stroke-opacity="0.5" stroke-width="0.4"/>
<polygon points="486.14,71.12 487.86,72.37 487.21,74.40 485.07,74.40 484.42,72.37" fill="#e2d26c" stroke="#000" stroke-opacity="0.5" stroke-width="0.4"/>
<polygon points="489.58,62.91 491.30,64.16 490.65,66.19 488.51,66.19 487.86,64.16" fill="#e2d26c" stroke="#000" stroke-opacity="0.5" stroke-width="0.4"/>
<polygon points="493.02,72.81 494.74,74.07 494.09,76.09 491.95,76.09 491.30,74.07" fill="#e2d26c" stroke="#000" stroke-opacity="0.5" stroke-width="0.4"/>
<polygon points="496.46,71.12 498.18,72.37 497.53,74.40 495.39,74.40 494.74,72.37" fill="#e2d26c" stroke="#000" stroke-opacity="0.5" stroke-width="0.4"/>
<polygon points="499.90,71.97 501.62,73.22 500.97,75.25 498.83,75.25 498.18,73.22" fill="#e2d26c" stroke="#000" stroke-opacity="0.5" stroke-width="0.4"/>
<polygon points="503.34,58.95 505.06,60.20 504.41,62.23 502.27,62.23 501.62,60.20" fill="#e2d26c" stroke="#000" stroke-opacity="0.5" stroke-width="0.4"/>
<polygon points="506.78,51.02 508.50,52.28 507.85,54.30 505.71,54.30 505.06,52.28" fill="#e2d26c" stroke="#000" stroke-opacity="0.5" stroke-width="0.4"/>
<polygon points="510.22,58.95 511.94,60.20 511.29,62.23 509.15,62.23 508.50,60.20" fill="#e2d26c" stroke="#000" stroke-opacity="0.5" stroke-width="0.4"/>
<polygon points="513.66,54.14 515.38,55.39 514.73,57.42 512.59,57.42 511.94,55.39" fill="#e2d26c" stroke="#000" stroke-opacity="0.5" stroke-width="0.4"/>
<polygon points="517.10,56.97 518.82,58.22 518.17,60.25 516.03,60.25 515.38,58.22" fill="#e2d26c" stroke="#000" stroke-opacity="0.5" stroke-width="0.4"/>
<polygon points="520.54,46.21 522.26,47.47 521.61,49.49 519.47,49.49 518.82,47.47" fill="#e2d26c" stroke="#000" stroke-opacity="0.5" stroke-width="0.4"/>
<polygon points="523.98,50.17 525.70,51.43 525.05,53.45 522.91,53.45 522.26,51.43" fill="#e2d26c" stroke="#000" stroke-opacity="0.5" stroke-width="0.4"/>
<polygon points="527.42,53.29 529.14,54.54 528.49,56.57 526.35,56.57 525.70,54.54" fill="#e2d26c" stroke="#000" stroke-opacity="0.5" stroke-width="0.4"/>
<polygon points="530.86,41.40 532.58,42.65 531.93,44.68 529.79,44.68 529.14,42.65" fill="#e2d26c" stroke="#000" stroke-opacity="0.5" stroke-width="0.4"/>
<polygon points="534.30,47.06 536.02,48.31 535.37,50.34 533.23,50.34 532.58,48.31" fill="#e2d26c" stroke="#000" stroke-opacity="0.5" stroke-width="0.4"/>
<polygon points="537.74,49.04 539.46,50.30 538.81,52.32 536.67,52.32 536.02,50.30" fill="#e2d26c" stroke="#000" stroke-opacity="0.5" stroke-width="0.4"/>
<polygon points="541.18,46.50 542.90,47.75 542.25,49.78 540.11,49.78 539.46,47.75" fill="#e2d26c" stroke="#000" stroke-opacity="0.5" stroke-width="0.4"/>
<polygon points="544.62,48.48 546.34,49.73 545.69,51.76 543.55,51.76 542.90,49.73" fill="#e2d26c" stroke="#000" stroke-opacity="0.5" stroke-width="0.4"/>
<polygon points="548.06,45.65 549.78,46.90 549.13,48.93 546.99,48.93 546.34,46.90" fill="#e2d26c" stroke="#000" stroke-opacity="0.5" stroke-width="0.4"/>
<polygon points="551.50,43.67 553.22,44.92 552.57,46.95 550.43,46.95 549.78,44.92" fill="#e2d26c" stroke="#000" stroke-opacity="0.5" stroke-width="0.4"/>
<polygon points="554.94,57.53 556.66,58.79 556.01,60.81 553.87,60.81 553.22,58.79" fill="#e2d26c" stroke="#000" stroke-opacity="0.5" stroke-width="0.4"/>
<polygon points="558.38,47.06 560.10,48.31 559.45,50.34 557.31,50.34 556.66,48.31" fill="#e2d26c" stroke="#000" stroke-opacity="0.5" stroke-width="0.4"/>
<polygon points="561.82,50.46 563.54,51.71 562.89,53.74 560.75,53.74 560.10,51.71" fill="#e2d26c" stroke="#000" stroke-opacity="0.5" stroke-width="0.4"/>
<polygon points="565.26,49.61 566.98,50.86 566.33,52.89 564.19,52.89 563.54,50.86" fill="#e2d26c" stroke="#000" stroke-opacity="0.5" stroke-width="0.4"/>
<polygon points="568.70,53.29 570.42,54.54 569.77,56.57 567.63,56.57 566.98,54.54" fill="#e2d26c" stroke="#000" stroke-opacity="0.5" stroke-width="0.4"/>
<polygon points="572.14,47.06 573.86,48.31 573.21,50.34 571.07,50.34 570.42,48.31" fill="#e2d26c" stroke="#000" stroke-opacity="0.5" stroke-width="0.4"/>
<polygon points="575.58,52.72 577.30,53.97 576.65,56.00 574.51,56.00 573.86,53.97" fill="#e2d26c" stroke="#000" stroke-opacity="0.5" stroke-width="0.4"/>
<polygon points="579.02,47.06 580.74,48.31 580.09,50.34 577.95,50.34 577.30,48.31" fill="#e2d26c" stroke="#000" stroke-opacity="0.5" stroke-width="0.4"/>
<polygon points="582.46,49.04 584.18,50.30 583.53,52.32 581.39,52.32 580.74,50.30" fill="#e2d26c" stroke="#000" stroke-opacity="0.5" stroke-width="0.4"/>
<polygon points="589.34,54.14 591.06,55.39 590.41,57.42 588.27,57.42 587.62,55.39" fill="#e2d26c" stroke="#000" stroke-opacity="0.5" stroke-width="0.4"/>
<polyline points="396.70,155.00 400.14,140.85 403.58,137.74 407.02,120.19 410.46,123.02 413.90,127.55 417.34,116.80 420.78,129.25 424.22,116.51 427.66,114.25 431.10,102.36 434.54,111.70 437.98,110.00 441.42,101.23 444.86,94.16 448.30,87.08 451.74,92.17 455.18,95.57 458.62,82.27 462.06,74.91 465.50,78.31 468.94,87.08 472.38,87.93 475.82,73.50 479.26,75.19 482.70,75.76 486.14,67.84 489.58,75.19 493.02,68.69 496.46,65.57 499.90,55.10 503.34,63.59 506.78,61.33 510.22,51.42 513.66,54.25 517.10,53.12 520.54,64.44 523.98,62.18 527.42,38.97 530.86,44.91 534.30,62.18 537.74,53.97 541.18,56.52 544.62,46.89 548.06,44.63 551.50,40.95 554.94,39.25 558.38,51.70 561.82,46.89 565.26,31.05 568.70,46.05 572.14,46.05 579.02,40.67 582.46,39.82 585.90,38.97 589.34,40.67 603.10,38.12" fill="none" stroke="#f2bfc4" stroke-width="0.45"/>
<rect x="394.85" y="153.15" width="3.70" height="3.70" fill="#e78b96" stroke="#000" stroke-opacity="0.5" stroke-width="0.4"/>
<rect x="398.29" y="139.00" width="3.70" height="3.70" fill="#e78b96" stroke="#000" stroke-opacity="0.5" stroke-width="0.4"/>
<rect x="401.73" y="135.89" width="3.70" height="3.70" fill="#e78b96" stroke="#000" stroke-opacity="0.5" stroke-width="0.4"/>
<rect x="405.17" y="118.34" width="3.70" height="3.70" fill="#e78b96" stroke="#000" stroke-opacity="0.5" stroke-width="0.4"/>
<rect x="408.61" y="121.17" width="3.70" height="3.70" fill="#e78b96" stroke="#000" stroke-opacity="0.5" stroke-width="0.4"/>
<rect x="412.05" y="125.70" width="3.70" height="3.70" fill="#e78b96" stroke="#000" stroke-opacity="0.5" stroke-width="0.4"/>
<rect x="415.49" y="114.95" width="3.70" height="3.70" fill="#e78b96" stroke="#000" stroke-opacity="0.5" stroke-width="0.4"/>
<rect x="418.93" y="127.40" width="3.70" height="3.70" fill="#e78b96" stroke="#000" stroke-opacity="0.5" stroke-width="0.4"/>
<rect x="422.37" y="114.66" width="3.70" height="3.70" fill="#e78b96" stroke="#000" stroke-opacity="0.5" stroke-width="0.4"/>
<rect x="425.81" y="112.40" width="3.70" height="3.70" fill="#e78b96" stroke="#000" stroke-opacity="0.5" stroke-width="0.4"/>
<rect x="429.25" y="100.51" width="3.70" height="3.70" fill="#e78b96" stroke="#000" stroke-opacity="0.5" stroke-width="0.4"/>
<rect x="432.69" y="109.85" width="3.70" height="3.70" fill="#e78b96" stroke="#000" stroke-opacity="0.5" stroke-width="0.4"/>
<rect x="436.13" y="108.15" width="3.70" height="3.70" fill="#e78b96" stroke="#000" stroke-opacity="0.5" stroke-width="0.4"/>
<rect x="439.57" y="99.38" width="3.70" height="3.70" fill="#e78b96" stroke="#000" stroke-opacity="0.5" stroke-width="0.4"/>
<rect x="443.01" y="92.31" width="3.70" height="3.70" fill="#e78b96" stroke="#000" stroke-opacity="0.5" stroke-width="0.4"/>
<rect x="446.45" y="85.23" width="3.70" height="3.70" fill="#e78b96" stroke="#000" stroke-opacity="0.5" stroke-width="0.4"/>
<rect x="449.89" y="90.32" width="3.70" height="3.70" fill="#e78b96" stroke="#000" stroke-opacity="0.5" stroke-width="0.4"/>
<rect x="453.33" y="93.72" width="3.70" height="3.70" fill="#e78b96" stroke="#000" stroke-opacity="0.5" stroke-width="0.4"/>
<rect x="456.77" y="80.42" width="3.70" height="3.70" fill="#e78b96" stroke="#000" stroke-opacity="0.5" stroke-width="0.4"/>
<rect x="460.21" y="73.06" width="3.70" height="3.70" fill="#e78b96" stroke="#000" stroke-opacity="0.5" stroke-width="0.4"/>
<rect x="463.65" y="76.46" width="3.70" height="3.70" fill="#e78b96" stroke="#000" stroke-opacity="0.5" stroke-width="0.4"/>
<rect x="467.09" y="85.23" width="3.70" height="3.70" fill="#e78b96" stroke="#000" stroke-opacity="0.5" stroke-width="0.4"/>
<rect x="470.53" y="86.08" width="3.70" height="3.70" fill="#e78b96" stroke="#000" stroke-opacity="0.5" stroke-width="0.4"/>
<rect x="473.97" y="71.65" width="3.70" height="3.70" fill="#e78b96" stroke="#000" stroke-opacity="0.5" stroke-width="0.4"/>
<rect x="477.41" y="73.34" width="3.70" height="3.70" fill="#e78b96" stroke="#000" stroke-opacity="0.5" stroke-width="0.4"/>
<rect x="480.85" y="73.91" width="3.70" height="3.70" fill="#e78b96" stroke="#000" stroke-opacity="0.5" stroke-width="0.4"/>
<rect x="484.29" y="65.99" width="3.70" height="3.70" fill="#e78b96" stroke="#000" stroke-opacity="0.5" stroke-width="0.4"/>
<rect x="487.73" y="73.34" width="3.70" height="3.70" fill="#e78b96" stroke="#000" stroke-opacity="0.5" stroke-width="0.4"/>
<rect x="491.17" y="66.84" width="3.70" height="3.70" fill="#e78b96" stroke="#000" stroke-opacity="0.5" stroke-width="0.4"/>
<rect x="494.61" y="63.72" width="3.70" height="3.70" fill="#e78b96" stroke="#000" stroke-opacity="0.5" stroke-width="0.4"/>
<rect x="498.05" y="53.25" width="3.70" height="3.70" fill="#e78b96" stroke="#000" stroke-opacity="0.5" stroke-width="0.4"/>
<rect x="501.49" y="61.74" width="3.70" height="3.70" fill="#e78b96" stroke="#000" stroke-opacity="0.5" stroke-width="0.4"/>
<rect x="504.93" y="59.48" width="3.70" height="3.70" fill="#e78b96" stroke="#000" stroke-opacity="0.5" stroke-width="0.4"/>
<rect x="508.37" y="49.57" width="3.70" height="3.70" fill="#e78b96" stroke="#000" stroke-opacity="0.5" stroke-width="0.4"/>
<rect x="511.81" y="52.40" width="3.70" height="3.70" fill="#e78b96" stroke="#000" stroke-opacity="0.5" stroke-width="0.4"/>
<rect x="515.25" y="51.27" width="3.70" height="3.70" fill="#e78b96" stroke="#000" stroke-opacity="0.5" stroke-width="0.4"/>
<rect x="518.69" y="62.59" width="3.70" height="3.70" fill="#e78b96" stroke="#000" stroke-opacity="0.5" stroke-width="0.4"/>
<rect x="522.13" y="60.33" width="3.70" height="3.70" fill="#e78b96" stroke="#000" stroke-opacity="0.5" stroke-width="0.4"/>
<rect x="525.57" y="37.12" width="3.70" height="3.70" fill="#e78b96" stroke="#000" stroke-opacity="0.5" stroke-width="0.4"/>
<rect x="529.01" y="43.06" width="3.70" height="3.70" fill="#e78b96" stroke="#000" stroke-opacity="0.5" stroke-width="0.4"/>
<rect x="532.45" y="60.33" width="3.70" height="3.70" fill="#e78b96" stroke="#000" stroke-opacity="0.5" stroke-width="0.4"/>
<rect x="535.89" y="52.12" width="3.70" height="3.70" fill="#e78b96" stroke="#000" stroke-opacity="0.5" stroke-width="0.4"/>
<rect x="539.33" y="54.67" width="3.70" height="3.70" fill="#e78b96" stroke="#000" stroke-opacity="0.5" stroke-width="0.4"/>
<rect x="542.77" y="45.04" width="3.70" height="3.70" fill="#e78b96" stroke="#000" stroke-opacity="0.5" stroke-width="0.4"/>
<rect x="546.21" y="42.78" width="3.70" height="3.70" fill="#e78b96" stroke="#000" stroke-opacity="0.5" stroke-width="0.4"/>
<rect x="549.65" y="39.10" width="3.70" height="3.70" fill="#e78b96" stroke="#000" stroke-opacity="0.5" stroke-width="0.4"/>
<rect x="553.09" y="37.40" width="3.70" height="3.70" fill="#e78b96" stroke="#000" stroke-opacity="0.5" stroke-width="0.4"/>
<rect x="556.53" y="49.85" width="3.70" height="3.70" fill="#e78b96" stroke="#000" stroke-opacity="0.5" stroke-width="0.4"/>
<rect x="559.97" y="45.04" width="3.70" height="3.70" fill="#e78b96" stroke="#000" stroke-opacity="0.5" stroke-width="0.4"/>
<rect x="563.41" y="29.20" width="3.70" height="3.70" fill="#e78b96" stroke="#000" stroke-opacity="0.5" stroke-width="0.4"/>
<rect x="566.85" y="44.20" width="3.70" height="3.70" fill="#e78b96" stroke="#000" stroke-opacity="0.5" stroke-width="0.4"/>
<rect x="570.29" y="44.20" width="3.70" height="3.70" fill="#e78b96" stroke="#000" stroke-opacity="0.5" stroke-width="0.4"/>
<rect x="577.17" y="38.82" width="3.70" height="3.70" fill="#e78b96" stroke="#000" stroke-opacity="0.5" stroke-width="0.4"/>
<rect x="580.61" y="37.97" width="3.70" height="3.70" fill="#e78b96" stroke="#000" stroke-opacity="0.5" stroke-width="0.4"/>
<rect x="584.05" y="37.12" width="3.70" height="3.70" fill="#e78b96" stroke="#000" stroke-opacity="0.5" stroke-width="0.4"/>
<rect x="587.49" y="38.82" width="3.70" height="3.70" fill="#e78b96" stroke="#000" stroke-opacity="0.5" stroke-width="0.4"/>
<rect x="601.25" y="36.27" width="3.70" height="3.70" fill="#e78b96" stroke="#000" stroke-opacity="0.5" stroke-width="0.4"/>
<polyline points="396.70,155.00 400.14,134.34 403.58,112.55 407.02,132.08 413.90,111.42 417.34,110.00 420.78,102.08 424.22,109.44 427.66,100.66 431.10,96.14 434.54,93.59 437.98,91.89 441.42,84.82 444.86,87.93 448.30,91.04 451.74,85.10 455.18,82.27 458.62,83.40 462.06,86.51 465.50,87.36 468.94,86.80 472.38,76.61 475.82,74.34 479.26,74.63 482.70,76.61 486.14,76.61 489.58,74.63 493.02,72.65 496.46,71.23 499.90,67.84 503.34,72.08 506.78,69.53 510.22,68.69 513.66,66.70 517.10,68.69 520.54,61.61 523.98,62.18 527.42,66.99 530.86,62.18 534.30,61.33 537.74,65.29 541.18,72.36 544.62,66.99 548.06,63.59 551.50,68.12 554.94,65.86 558.38,63.59 561.82,63.02 565.26,62.18 568.70,65.01 572.14,71.23 582.46,73.21 589.34,61.04" fill="none" stroke="#ee7f9c" stroke-width="0.45"/>
<polygon points="396.70,153.25 394.95,156.75 398.45,156.75" fill="#de2758" stroke="#000" stroke-opacity="0.5" stroke-width="0.4"/>
<polygon points="400.14,132.59 398.39,136.09 401.89,136.09" fill="#de2758" stroke="#000" stroke-opacity="0.5" stroke-width="0.4"/>
<polygon points="403.58,110.80 401.83,114.30 405.33,114.30" fill="#de2758" stroke="#000" stroke-opacity="0.5" stroke-width="0.4"/>
<polygon points="407.02,130.33 405.27,133.83 408.77,133.83" fill="#de2758" stroke="#000" stroke-opacity="0.5" stroke-width="0.4"/>
<polygon points="413.90,109.67 412.15,113.17 415.65,113.17" fill="#de2758" stroke="#000" stroke-opacity="0.5" stroke-width="0.4"/>
<polygon points="417.34,108.25 415.59,111.75 419.09,111.75" fill="#de2758" stroke="#000" stroke-opacity="0.5" stroke-width="0.4"/>
<polygon points="420.78,100.33 419.03,103.83 422.53,103.83" fill="#de2758" stroke="#000" stroke-opacity="0.5" stroke-width="0.4"/>
<polygon points="424.22,107.69 422.47,111.19 425.97,111.19" fill="#de2758" stroke="#000" stroke-opacity="0.5" stroke-width="0.4"/>
<polygon points="427.66,98.91 425.91,102.41 429.41,102.41" fill="#de2758" stroke="#000" stroke-opacity="0.5" stroke-width="0.4"/>
<polygon points="431.10,94.39 429.35,97.89 432.85,97.89" fill="#de2758" stroke="#000" stroke-opacity="0.5" stroke-width="0.4"/>
<polygon points="434.54,91.84 432.79,95.34 436.29,95.34" fill="#de2758" stroke="#000" stroke-opacity="0.5" stroke-width="0.4"/>
<polygon points="437.98,90.14 436.23,93.64 439.73,93.64" fill="#de2758" stroke="#000" stroke-opacity="0.5" stroke-width="0.4"/>
<polygon points="441.42,83.07 439.67,86.57 443.17,86.57" fill="#de2758" stroke="#000" stroke-opacity="0.5" stroke-width="0.4"/>
<polygon points="444.86,86.18 443.11,89.68 446.61,89.68" fill="#de2758" stroke="#000" stroke-opacity="0.5" stroke-width="0.4"/>
<polygon points="448.30,89.29 446.55,92.79 450.05,92.79" fill="#de2758" stroke="#000" stroke-opacity="0.5" stroke-width="0.4"/>
<polygon points="451.74,83.35 449.99,86.85 453.49,86.85" fill="#de2758" stroke="#000" stroke-opacity="0.5" stroke-width="0.4"/>
<polygon points="455.18,80.52 453.43,84.02 456.93,84.02" fill="#de2758" stroke="#000" stroke-opacity="0.5" stroke-width="0.4"/>
<polygon points="458.62,81.65 456.87,85.15 460.37,85.15" fill="#de2758" stroke="#000" stroke-opacity="0.5" stroke-width="0.4"/>
<polygon points="462.06,84.76 460.31,88.26 463.81,88.26" fill="#de2758" stroke="#000" stroke-opacity="0.5" stroke-width="0.4"/>
<polygon points="465.50,85.61 463.75,89.11 467.25,89.11" fill="#de2758" stroke="#000" stroke-opacity="0.5" stroke-width="0.4"/>
<polygon points="468.94,85.05 467.19,88.55 470.69,88.55" fill="#de2758" stroke="#000" stroke-opacity="0.5" stroke-width="0.4"/>
<polygon points="472.38,74.86 470.63,78.36 474.13,78.36" fill="#de2758" stroke="#000" stroke-opacity="0.5" stroke-width="0.4"/>
<polygon points="475.82,72.59 474.07,76.09 477.57,76.09" fill="#de2758" stroke="#000" stroke-opacity="0.5" stroke-width="0.4"/>
<polygon points="479.26,72.88 477.51,76.38 481.01,76.38" fill="#de2758" stroke="#000" stroke-opacity="0.5" stroke-width="0.4"/>
<polygon points="482.70,74.86 480.95,78.36 484.45,78.36" fill="#de2758" stroke="#000" stroke-opacity="0.5" stroke-width="0.4"/>
<polygon points="486.14,74.86 484.39,78.36 487.89,78.36" fill="#de2758" stroke="#000" stroke-opacity="0.5" stroke-width="0.4"/>
<polygon points="489.58,72.88 487.83,76.38 491.33,76.38" fill="#de2758" stroke="#000" stroke-opacity="0.5" stroke-width="0.4"/>
<polygon points="493.02,70.90 491.27,74.40 494.77,74.40" fill="#de2758" stroke="#000" stroke-opacity="0.5" stroke-width="0.4"/>
<polygon points="496.46,69.48 494.71,72.98 498.21,72.98" fill="#de2758" stroke="#000" stroke-opacity="0.5" stroke-width="0.4"/>
<polygon points="499.90,66.09 498.15,69.59 501.65,69.59" fill="#de2758" stroke="#000" stroke-opacity="0.5" stroke-width="0.4"/>
<polygon points="503.34,70.33 501.59,73.83 505.09,73.83" fill="#de2758" stroke="#000" stroke-opacity="0.5" stroke-width="0.4"/>
<polygon points="506.78,67.78 505.03,71.28 508.53,71.28" fill="#de2758" stroke="#000" stroke-opacity="0.5" stroke-width="0.4"/>
<polygon points="510.22,66.94 508.47,70.44 511.97,70.44" fill="#de2758" stroke="#000" stroke-opacity="0.5" stroke-width="0.4"/>
<polygon points="513.66,64.95 511.91,68.45 515.41,68.45" fill="#de2758" stroke="#000" stroke-opacity="0.5" stroke-width="0.4"/>
<polygon points="517.10,66.94 515.35,70.44 518.85,70.44" fill="#de2758" stroke="#000" stroke-opacity="0.5" stroke-width="0.4"/>
<polygon points="520.54,59.86 518.79,63.36 522.29,63.36" fill="#de2758" stroke="#000" stroke-opacity="0.5" stroke-width="0.4"/>
<polygon points="523.98,60.43 522.23,63.93 525.73,63.93" fill="#de2758" stroke="#000" stroke-opacity="0.5" stroke-width="0.4"/>
<polygon points="527.42,65.24 525.67,68.74 529.17,68.74" fill="#de2758" stroke="#000" stroke-opacity="0.5" stroke-width="0.4"/>
<polygon points="530.86,60.43 529.11,63.93 532.61,63.93" fill="#de2758" stroke="#000" stroke-opacity="0.5" stroke-width="0.4"/>
<polygon points="534.30,59.58 532.55,63.08 536.05,63.08" fill="#de2758" stroke="#000" stroke-opacity="0.5" stroke-width="0.4"/>
<polygon points="537.74,63.54 535.99,67.04 539.49,67.04" fill="#de2758" stroke="#000" stroke-opacity="0.5" stroke-width="0.4"/>
<polygon points="541.18,70.61 539.43,74.11 542.93,74.11" fill="#de2758" stroke="#000" stroke-opacity="0.5" stroke-width="0.4"/>
<polygon points="544.62,65.24 542.87,68.74 546.37,68.74" fill="#de2758" stroke="#000" stroke-opacity="0.5" stroke-width="0.4"/>
<polygon points="548.06,61.84 546.31,65.34 549.81,65.34" fill="#de2758" stroke="#000" stroke-opacity="0.5" stroke-width="0.4"/>
<polygon points="551.50,66.37 549.75,69.87 553.25,69.87" fill="#de2758" stroke="#000" stroke-opacity="0.5" stroke-width="0.4"/>
<polygon points="554.94,64.11 553.19,67.61 556.69,67.61" fill="#de2758" stroke="#000" stroke-opacity="0.5" stroke-width="0.4"/>
<polygon points="558.38,61.84 556.63,65.34 560.13,65.34" fill="#de2758" stroke="#000" stroke-opacity="0.5" stroke-width="0.4"/>
<polygon points="561.82,61.27 560.07,64.77 563.57,64.77" fill="#de2758" stroke="#000" stroke-opacity="0.5" stroke-width="0.4"/>
<polygon points="565.26,60.43 563.51,63.93 567.01,63.93" fill="#de2758" stroke="#000" stroke-opacity="0.5" stroke-width="0.4"/>
<polygon points="568.70,63.26 566.95,66.76 570.45,66.76" fill="#de2758" stroke="#000" stroke-opacity="0.5" stroke-width="0.4"/>
<polygon points="572.14,69.48 570.39,72.98 573.89,72.98" fill="#de2758" stroke="#000" stroke-opacity="0.5" stroke-width="0.4"/>
<polygon points="582.46,71.46 580.71,74.96 584.21,74.96" fill="#de2758" stroke="#000" stroke-opacity="0.5" stroke-width="0.4"/>
<polygon points="589.34,59.29 587.59,62.79 591.09,62.79" fill="#de2758" stroke="#000" stroke-opacity="0.5" stroke-width="0.4"/>
<rect x="390.5" y="23.4" width="48.19999999999999" height="50.00000000000001" rx="1.5" fill="#fff" fill-opacity="0.8" stroke="#dcdcdc" stroke-width="0.7"/>
<circle cx="401.90" cy="30.80" r="4.00" fill="#95dbad" stroke="#000" stroke-opacity="0.5" stroke-width="0.35"/>
<text transform="translate(416.1,33.24) scale(0.96,1)" font-family='"DejaVu Sans","Liberation Sans",sans-serif' font-size="7.9" fill="#000" stroke="#000" stroke-width="0.12">CN</text>
<polygon points="401.90,38.38 405.72,41.16 404.26,45.65 399.54,45.65 398.08,41.16" fill="#e3d577" stroke="#000" stroke-opacity="0.5" stroke-width="0.35"/>
<text transform="translate(416.1,44.84) scale(0.96,1)" font-family='"DejaVu Sans","Liberation Sans",sans-serif' font-size="7.9" fill="#000" stroke="#000" stroke-width="0.12">EMCI</text>
<rect x="398.00" y="50.40" width="7.80" height="7.80" fill="#e8959c" stroke="#000" stroke-opacity="0.5" stroke-width="0.35"/>
<text transform="translate(416.1,56.74) scale(0.96,1)" font-family='"DejaVu Sans","Liberation Sans",sans-serif' font-size="7.9" fill="#000" stroke="#000" stroke-width="0.12">LMCI</text>
<polygon points="401.90,63.20 398.10,70.80 405.70,70.80" fill="#e02a5b" stroke="#000" stroke-opacity="0.5" stroke-width="0.35"/>
<text transform="translate(416.1,68.44) scale(0.96,1)" font-family='"DejaVu Sans","Liberation Sans",sans-serif' font-size="7.9" fill="#000" stroke="#000" stroke-width="0.12">AD</text>
<text x="370.2" y="20.3" font-family='"Liberation Serif","DejaVu Serif",serif' font-weight="bold" font-size="27" fill="#000">b</text>
<line x1="632.7" y1="21.3" x2="643.7" y2="23.5" stroke="#1c1c1c" stroke-width="1.2"/>
<line x1="643.7" y1="23.5" x2="651.2" y2="29.6" stroke="#1c1c1c" stroke-width="1.2"/>
<line x1="651.2" y1="29.6" x2="655.6" y2="39.8" stroke="#1c1c1c" stroke-width="1.2"/>
<line x1="655.6" y1="39.8" x2="654.8" y2="48.8" stroke="#1c1c1c" stroke-width="1.2"/>
<line x1="654.8" y1="48.8" x2="644" y2="50.7" stroke="#1c1c1c" stroke-width="1.2"/>
<line x1="644" y1="50.7" x2="629" y2="49.7" stroke="#1c1c1c" stroke-width="1.2"/>
<line x1="629" y1="49.7" x2="623.3" y2="42.5" stroke="#1c1c1c" stroke-width="1.2"/>
<line x1="623.3" y1="42.5" x2="622.8" y2="34" stroke="#1c1c1c" stroke-width="1.2"/>
<line x1="622.8" y1="34" x2="625.3" y2="26.6" stroke="#1c1c1c" stroke-width="1.2"/>
<line x1="625.3" y1="26.6" x2="632.7" y2="21.3" stroke="#1c1c1c" stroke-width="1.2"/>
<line x1="644.8" y1="60.4" x2="635.2" y2="56" stroke="#1c1c1c" stroke-width="1.2"/>
<line x1="635.2" y1="56" x2="626.4" y2="58.7" stroke="#1c1c1c" stroke-width="1.2"/>
<line x1="626.4" y1="58.7" x2="620.3" y2="62.9" stroke="#1c1c1c" stroke-width="1.2"/>
<line x1="620.3" y1="62.9" x2="617.7" y2="70.3" stroke="#1c1c1c" stroke-width="1.2"/>
<line x1="617.7" y1="70.3" x2="622.9" y2="77.1" stroke="#1c1c1c" stroke-width="1.2"/>
<line x1="622.9" y1="77.1" x2="632.3" y2="79.3" stroke="#1c1c1c" stroke-width="1.2"/>
<line x1="632.3" y1="79.3" x2="639.9" y2="76.9" stroke="#1c1c1c" stroke-width="1.2"/>
<line x1="639.9" y1="76.9" x2="645.4" y2="71.3" stroke="#1c1c1c" stroke-width="1.2"/>
<line x1="645.4" y1="71.3" x2="644.8" y2="60.4" stroke="#1c1c1c" stroke-width="1.2"/>
<line x1="654.8" y1="62.3" x2="662.5" y2="55.5" stroke="#1c1c1c" stroke-width="1.2"/>
<line x1="662.5" y1="55.5" x2="671.4" y2="57.7" stroke="#1c1c1c" stroke-width="1.2"/>
<line x1="671.4" y1="57.7" x2="678.6" y2="62.7" stroke="#1c1c1c" stroke-width="1.2"/>
<line x1="678.6" y1="62.7" x2="680" y2="69.9" stroke="#1c1c1c" stroke-width="1.2"/>
<line x1="680" y1="69.9" x2="678.6" y2="77.7" stroke="#1c1c1c" stroke-width="1.2"/>
<line x1="678.6" y1="77.7" x2="671.7" y2="81.9" stroke="#1c1c1c" stroke-width="1.2"/>
<line x1="671.7" y1="81.9" x2="663.1" y2="80.8" stroke="#1c1c1c" stroke-width="1.2"/>
<line x1="663.1" y1="80.8" x2="655.4" y2="76.5" stroke="#1c1c1c" stroke-width="1.2"/>
<line x1="655.4" y1="76.5" x2="654.8" y2="62.3" stroke="#1c1c1c" stroke-width="1.2"/>
<line x1="644" y1="50.7" x2="644.8" y2="60.4" stroke="#1c1c1c" stroke-width="1.2"/>
<line x1="644" y1="50.7" x2="654.8" y2="62.3" stroke="#1c1c1c" stroke-width="1.2"/>
<line x1="644.8" y1="60.4" x2="654.8" y2="62.3" stroke="#1c1c1c" stroke-width="1.2"/>
<circle cx="632.7" cy="21.3" r="3.3" fill="#757575"/>
<circle cx="632.7" cy="21.3" r="0.99" fill="#161616"/>
<circle cx="643.7" cy="23.5" r="3.3" fill="#757575"/>
<circle cx="643.7" cy="23.5" r="0.99" fill="#161616"/>
<circle cx="651.2" cy="29.6" r="3.3" fill="#757575"/>
<circle cx="651.2" cy="29.6" r="0.99" fill="#161616"/>
<circle cx="655.6" cy="39.8" r="3.3" fill="#757575"/>
<circle cx="655.6" cy="39.8" r="0.99" fill="#161616"/>
<circle cx="654.8" cy="48.8" r="3.3" fill="#757575"/>
<circle cx="654.8" cy="48.8" r="0.99" fill="#161616"/>
<circle cx="644" cy="50.7" r="3.3" fill="#757575"/>
<circle cx="644" cy="50.7" r="0.99" fill="#161616"/>
<circle cx="629" cy="49.7" r="3.3" fill="#757575"/>
<circle cx="629" cy="49.7" r="0.99" fill="#161616"/>
<circle cx="623.3" cy="42.5" r="3.3" fill="#757575"/>
<circle cx="623.3" cy="42.5" r="0.99" fill="#161616"/>
<circle cx="622.8" cy="34" r="3.3" fill="#757575"/>
<circle cx="622.8" cy="34" r="0.99" fill="#161616"/>
<circle cx="625.3" cy="26.6" r="3.3" fill="#757575"/>
<circle cx="625.3" cy="26.6" r="0.99" fill="#161616"/>
<circle cx="644.8" cy="60.4" r="3.3" fill="#757575"/>
<circle cx="644.8" cy="60.4" r="0.99" fill="#161616"/>
<circle cx="635.2" cy="56" r="3.3" fill="#757575"/>
<circle cx="635.2" cy="56" r="0.99" fill="#161616"/>
<circle cx="626.4" cy="58.7" r="3.3" fill="#757575"/>
<circle cx="626.4" cy="58.7" r="0.99" fill="#161616"/>
<circle cx="620.3" cy="62.9" r="3.3" fill="#757575"/>
<circle cx="620.3" cy="62.9" r="0.99" fill="#161616"/>
<circle cx="617.7" cy="70.3" r="3.3" fill="#757575"/>
<circle cx="617.7" cy="70.3" r="0.99" fill="#161616"/>
<circle cx="622.9" cy="77.1" r="3.3" fill="#757575"/>
<circle cx="622.9" cy="77.1" r="0.99" fill="#161616"/>
<circle cx="632.3" cy="79.3" r="3.3" fill="#757575"/>
<circle cx="632.3" cy="79.3" r="0.99" fill="#161616"/>
<circle cx="639.9" cy="76.9" r="3.3" fill="#757575"/>
<circle cx="639.9" cy="76.9" r="0.99" fill="#161616"/>
<circle cx="645.4" cy="71.3" r="3.3" fill="#757575"/>
<circle cx="645.4" cy="71.3" r="0.99" fill="#161616"/>
<circle cx="654.8" cy="62.3" r="3.3" fill="#757575"/>
<circle cx="654.8" cy="62.3" r="0.99" fill="#161616"/>
<circle cx="662.5" cy="55.5" r="3.3" fill="#757575"/>
<circle cx="662.5" cy="55.5" r="0.99" fill="#161616"/>
<circle cx="671.4" cy="57.7" r="3.3" fill="#757575"/>
<circle cx="671.4" cy="57.7" r="0.99" fill="#161616"/>
<circle cx="678.6" cy="62.7" r="3.3" fill="#757575"/>
<circle cx="678.6" cy="62.7" r="0.99" fill="#161616"/>
<circle cx="680" cy="69.9" r="3.3" fill="#757575"/>
<circle cx="680" cy="69.9" r="0.99" fill="#161616"/>
<circle cx="678.6" cy="77.7" r="3.3" fill="#757575"/>
<circle cx="678.6" cy="77.7" r="0.99" fill="#161616"/>
<circle cx="671.7" cy="81.9" r="3.3" fill="#757575"/>
<circle cx="671.7" cy="81.9" r="0.99" fill="#161616"/>
<circle cx="663.1" cy="80.8" r="3.3" fill="#757575"/>
<circle cx="663.1" cy="80.8" r="0.99" fill="#161616"/>
<circle cx="655.4" cy="76.5" r="3.3" fill="#757575"/>
<circle cx="655.4" cy="76.5" r="0.99" fill="#161616"/>
<line x1="640.2" y1="124.5" x2="649.5" y2="133.3" stroke="#1c1c1c" stroke-width="1.2"/>
<line x1="649.5" y1="133.3" x2="653.7" y2="138.8" stroke="#1c1c1c" stroke-width="1.2"/>
<line x1="653.7" y1="138.8" x2="635.4" y2="147.5" stroke="#1c1c1c" stroke-width="1.2"/>
<line x1="653.7" y1="138.8" x2="659.8" y2="146.8" stroke="#1c1c1c" stroke-width="1.2"/>
<line x1="640.2" y1="124.5" x2="629.9" y2="102.4" stroke="#1c1c1c" stroke-width="1.2"/>
<line x1="640.2" y1="124.5" x2="641" y2="104.6" stroke="#1c1c1c" stroke-width="1.2"/>
<line x1="640.2" y1="124.5" x2="648.5" y2="110.7" stroke="#1c1c1c" stroke-width="1.2"/>
<line x1="640.2" y1="124.5" x2="652.8" y2="120.8" stroke="#1c1c1c" stroke-width="1.2"/>
<line x1="640.2" y1="124.5" x2="622.7" y2="107.7" stroke="#1c1c1c" stroke-width="1.2"/>
<line x1="640.2" y1="124.5" x2="620" y2="114.9" stroke="#1c1c1c" stroke-width="1.2"/>
<line x1="640.2" y1="124.5" x2="620.5" y2="123.8" stroke="#1c1c1c" stroke-width="1.2"/>
<line x1="640.2" y1="124.5" x2="626.4" y2="130.6" stroke="#1c1c1c" stroke-width="1.2"/>
<line x1="635.4" y1="147.5" x2="632.7" y2="136.9" stroke="#1c1c1c" stroke-width="1.2"/>
<line x1="635.4" y1="147.5" x2="623.8" y2="139.7" stroke="#1c1c1c" stroke-width="1.2"/>
<line x1="635.4" y1="147.5" x2="617.7" y2="144" stroke="#1c1c1c" stroke-width="1.2"/>
<line x1="635.4" y1="147.5" x2="615.2" y2="151.5" stroke="#1c1c1c" stroke-width="1.2"/>
<line x1="635.4" y1="147.5" x2="620.3" y2="158.2" stroke="#1c1c1c" stroke-width="1.2"/>
<line x1="635.4" y1="147.5" x2="629.6" y2="160.4" stroke="#1c1c1c" stroke-width="1.2"/>
<line x1="635.4" y1="147.5" x2="637.3" y2="158.2" stroke="#1c1c1c" stroke-width="1.2"/>
<line x1="635.4" y1="147.5" x2="642.6" y2="152.4" stroke="#1c1c1c" stroke-width="1.2"/>
<line x1="659.8" y1="146.8" x2="668.4" y2="138.8" stroke="#1c1c1c" stroke-width="1.2"/>
<line x1="659.8" y1="146.8" x2="676" y2="143.8" stroke="#1c1c1c" stroke-width="1.2"/>
<line x1="659.8" y1="146.8" x2="677.5" y2="151" stroke="#1c1c1c" stroke-width="1.2"/>
<line x1="659.8" y1="146.8" x2="675.8" y2="159.3" stroke="#1c1c1c" stroke-width="1.2"/>
<line x1="659.8" y1="146.8" x2="669.2" y2="163.2" stroke="#1c1c1c" stroke-width="1.2"/>
<line x1="659.8" y1="146.8" x2="660.3" y2="162.1" stroke="#1c1c1c" stroke-width="1.2"/>
<line x1="659.8" y1="146.8" x2="652.6" y2="157.6" stroke="#1c1c1c" stroke-width="1.2"/>
<circle cx="640.2" cy="124.5" r="3.3" fill="#757575"/>
<circle cx="640.2" cy="124.5" r="0.99" fill="#161616"/>
<circle cx="635.4" cy="147.5" r="3.3" fill="#757575"/>
<circle cx="635.4" cy="147.5" r="0.99" fill="#161616"/>
<circle cx="659.8" cy="146.8" r="3.3" fill="#757575"/>
<circle cx="659.8" cy="146.8" r="0.99" fill="#161616"/>
<circle cx="653.7" cy="138.8" r="3.3" fill="#757575"/>
<circle cx="653.7" cy="138.8" r="0.99" fill="#161616"/>
<circle cx="649.5" cy="133.3" r="3.3" fill="#757575"/>
<circle cx="649.5" cy="133.3" r="0.99" fill="#161616"/>
<circle cx="629.9" cy="102.4" r="3.3" fill="#757575"/>
<circle cx="629.9" cy="102.4" r="0.99" fill="#161616"/>
<circle cx="641" cy="104.6" r="3.3" fill="#757575"/>
<circle cx="641" cy="104.6" r="0.99" fill="#161616"/>
<circle cx="648.5" cy="110.7" r="3.3" fill="#757575"/>
<circle cx="648.5" cy="110.7" r="0.99" fill="#161616"/>
<circle cx="652.8" cy="120.8" r="3.3" fill="#757575"/>
<circle cx="652.8" cy="120.8" r="0.99" fill="#161616"/>
<circle cx="622.7" cy="107.7" r="3.3" fill="#757575"/>
<circle cx="622.7" cy="107.7" r="0.99" fill="#161616"/>
<circle cx="620" cy="114.9" r="3.3" fill="#757575"/>
<circle cx="620" cy="114.9" r="0.99" fill="#161616"/>
<circle cx="620.5" cy="123.8" r="3.3" fill="#757575"/>
<circle cx="620.5" cy="123.8" r="0.99" fill="#161616"/>
<circle cx="626.4" cy="130.6" r="3.3" fill="#757575"/>
<circle cx="626.4" cy="130.6" r="0.99" fill="#161616"/>
<circle cx="632.7" cy="136.9" r="3.3" fill="#757575"/>
<circle cx="632.7" cy="136.9" r="0.99" fill="#161616"/>
<circle cx="623.8" cy="139.7" r="3.3" fill="#757575"/>
<circle cx="623.8" cy="139.7" r="0.99" fill="#161616"/>
<circle cx="617.7" cy="144" r="3.3" fill="#757575"/>
<circle cx="617.7" cy="144" r="0.99" fill="#161616"/>
<circle cx="615.2" cy="151.5" r="3.3" fill="#757575"/>
<circle cx="615.2" cy="151.5" r="0.99" fill="#161616"/>
<circle cx="620.3" cy="158.2" r="3.3" fill="#757575"/>
<circle cx="620.3" cy="158.2" r="0.99" fill="#161616"/>
<circle cx="629.6" cy="160.4" r="3.3" fill="#757575"/>
<circle cx="629.6" cy="160.4" r="0.99" fill="#161616"/>
<circle cx="637.3" cy="158.2" r="3.3" fill="#757575"/>
<circle cx="637.3" cy="158.2" r="0.99" fill="#161616"/>
<circle cx="642.6" cy="152.4" r="3.3" fill="#757575"/>
<circle cx="642.6" cy="152.4" r="0.99" fill="#161616"/>
<circle cx="668.4" cy="138.8" r="3.3" fill="#757575"/>
<circle cx="668.4" cy="138.8" r="0.99" fill="#161616"/>
<circle cx="676" cy="143.8" r="3.3" fill="#757575"/>
<circle cx="676" cy="143.8" r="0.99" fill="#161616"/>
<circle cx="677.5" cy="151" r="3.3" fill="#757575"/>
<circle cx="677.5" cy="151" r="0.99" fill="#161616"/>
<circle cx="675.8" cy="159.3" r="3.3" fill="#757575"/>
<circle cx="675.8" cy="159.3" r="0.99" fill="#161616"/>
<circle cx="669.2" cy="163.2" r="3.3" fill="#757575"/>
<circle cx="669.2" cy="163.2" r="0.99" fill="#161616"/>
<circle cx="660.3" cy="162.1" r="3.3" fill="#757575"/>
<circle cx="660.3" cy="162.1" r="0.99" fill="#161616"/>
<circle cx="652.6" cy="157.6" r="3.3" fill="#757575"/>
<circle cx="652.6" cy="157.6" r="0.99" fill="#161616"/>
</g>
<g id="panel-c">
<rect x="37.0" y="224.9" width="240.39999999999998" height="141.49999999999997" fill="none" stroke="#8c8c8c" stroke-width="0.9"/>
<line x1="47.30" y1="366.4" x2="47.30" y2="368.4" stroke="#1a1a1a" stroke-width="0.9"/>
<text transform="translate(47.30,377.0) scale(0.92,1)" text-anchor="middle" letter-spacing="-0.3" font-family='"Liberation Sans","DejaVu Sans",sans-serif' font-size="11.9" fill="#1c1c1c">0</text>
<line x1="83.20" y1="366.4" x2="83.20" y2="368.4" stroke="#1a1a1a" stroke-width="0.9"/>
<text transform="translate(83.20,377.0) scale(0.92,1)" text-anchor="middle" letter-spacing="-0.3" font-family='"Liberation Sans","DejaVu Sans",sans-serif' font-size="11.9" fill="#1c1c1c">10</text>
<line x1="119.10" y1="366.4" x2="119.10" y2="368.4" stroke="#1a1a1a" stroke-width="0.9"/>
<text transform="translate(119.10,377.0) scale(0.92,1)" text-anchor="middle" letter-spacing="-0.3" font-family='"Liberation Sans","DejaVu Sans",sans-serif' font-size="11.9" fill="#1c1c1c">20</text>
<line x1="155.00" y1="366.4" x2="155.00" y2="368.4" stroke="#1a1a1a" stroke-width="0.9"/>
<text transform="translate(155.00,377.0) scale(0.92,1)" text-anchor="middle" letter-spacing="-0.3" font-family='"Liberation Sans","DejaVu Sans",sans-serif' font-size="11.9" fill="#1c1c1c">30</text>
<line x1="190.90" y1="366.4" x2="190.90" y2="368.4" stroke="#1a1a1a" stroke-width="0.9"/>
<text transform="translate(190.90,377.0) scale(0.92,1)" text-anchor="middle" letter-spacing="-0.3" font-family='"Liberation Sans","DejaVu Sans",sans-serif' font-size="11.9" fill="#1c1c1c">40</text>
<line x1="226.80" y1="366.4" x2="226.80" y2="368.4" stroke="#1a1a1a" stroke-width="0.9"/>
<text transform="translate(226.80,377.0) scale(0.92,1)" text-anchor="middle" letter-spacing="-0.3" font-family='"Liberation Sans","DejaVu Sans",sans-serif' font-size="11.9" fill="#1c1c1c">50</text>
<line x1="262.70" y1="366.4" x2="262.70" y2="368.4" stroke="#1a1a1a" stroke-width="0.9"/>
<text transform="translate(262.70,377.0) scale(0.92,1)" text-anchor="middle" letter-spacing="-0.3" font-family='"Liberation Sans","DejaVu Sans",sans-serif' font-size="11.9" fill="#1c1c1c">60</text>
<line x1="35.0" y1="359.30" x2="37.0" y2="359.30" stroke="#1a1a1a" stroke-width="0.9"/>
<text transform="translate(34.4,363.92) scale(0.92,1)" text-anchor="end" letter-spacing="-0.3" font-family='"Liberation Sans","DejaVu Sans",sans-serif' font-size="11.9" fill="#1c1c1c">0</text>
<line x1="35.0" y1="333.70" x2="37.0" y2="333.70" stroke="#1a1a1a" stroke-width="0.9"/>
<text transform="translate(34.4,338.32) scale(0.92,1)" text-anchor="end" letter-spacing="-0.3" font-family='"Liberation Sans","DejaVu Sans",sans-serif' font-size="11.9" fill="#1c1c1c">1</text>
<line x1="35.0" y1="308.10" x2="37.0" y2="308.10" stroke="#1a1a1a" stroke-width="0.9"/>
<text transform="translate(34.4,312.72) scale(0.92,1)" text-anchor="end" letter-spacing="-0.3" font-family='"Liberation Sans","DejaVu Sans",sans-serif' font-size="11.9" fill="#1c1c1c">2</text>
<line x1="35.0" y1="282.50" x2="37.0" y2="282.50" stroke="#1a1a1a" stroke-width="0.9"/>
<text transform="translate(34.4,287.12) scale(0.92,1)" text-anchor="end" letter-spacing="-0.3" font-family='"Liberation Sans","DejaVu Sans",sans-serif' font-size="11.9" fill="#1c1c1c">3</text>
<line x1="35.0" y1="256.90" x2="37.0" y2="256.90" stroke="#1a1a1a" stroke-width="0.9"/>
<text transform="translate(34.4,261.52) scale(0.92,1)" text-anchor="end" letter-spacing="-0.3" font-family='"Liberation Sans","DejaVu Sans",sans-serif' font-size="11.9" fill="#1c1c1c">4</text>
<line x1="35.0" y1="231.30" x2="37.0" y2="231.30" stroke="#1a1a1a" stroke-width="0.9"/>
<text transform="translate(34.4,235.92) scale(0.92,1)" text-anchor="end" letter-spacing="-0.3" font-family='"Liberation Sans","DejaVu Sans",sans-serif' font-size="11.9" fill="#1c1c1c">5</text>
<text x="152.6" y="396.3" text-anchor="middle" font-family='"Liberation Serif","DejaVu Serif",serif' font-style="italic" font-size="17.2" fill="#333">k</text>
<text transform="translate(11.4,299.8) rotate(-90)" text-anchor="middle" letter-spacing="0.6" font-family='"Liberation Serif","DejaVu Serif",serif' font-style="italic" font-size="12.8" fill="#444">ρ<tspan font-style="normal">(</tspan>k<tspan font-style="normal">)</tspan></text>
<polyline points="47.30,333.70 50.89,333.70 54.48,333.70 58.07,333.70 61.66,333.70 65.25,333.70 68.84,333.70 72.43,333.70 76.02,333.19 79.61,332.68 83.20,332.48 86.79,332.29 90.38,332.10 93.97,331.91 97.56,331.72 101.15,331.52 104.74,331.33 108.33,331.14 111.92,331.14 115.51,330.63 119.10,330.24 122.69,329.48 126.28,328.84 129.87,328.07 133.46,327.43 137.05,326.79 140.64,326.28 144.23,325.51 147.82,324.48 151.41,325.25 155.00,322.95 158.59,320.90 162.18,319.36 165.77,318.85 169.36,318.34 172.95,317.83 176.54,314.76 180.13,312.45 183.72,310.66 187.31,310.66 190.90,306.82 194.49,305.03 198.08,299.40 201.67,296.84 205.26,290.18 208.85,279.17 212.44,281.48 216.03,281.22 219.62,277.89 223.21,277.89 226.80,277.38 230.39,266.12 233.98,266.12 237.57,266.12 241.16,263.81 244.75,271.24 248.34,271.24 251.93,294.28 255.52,231.04 259.11,282.50 262.70,333.70 266.29,333.70" fill="none" stroke="#bfe8cc" stroke-width="0.45"/>
<circle cx="47.30" cy="333.70" r="1.70" fill="#93dbac" stroke="#000" stroke-opacity="0.5" stroke-width="0.5"/>
<circle cx="50.89" cy="333.70" r="1.70" fill="#93dbac" stroke="#000" stroke-opacity="0.5" stroke-width="0.5"/>
<circle cx="54.48" cy="333.70" r="1.70" fill="#93dbac" stroke="#000" stroke-opacity="0.5" stroke-width="0.5"/>
<circle cx="58.07" cy="333.70" r="1.70" fill="#93dbac" stroke="#000" stroke-opacity="0.5" stroke-width="0.5"/>
<circle cx="61.66" cy="333.70" r="1.70" fill="#93dbac" stroke="#000" stroke-opacity="0.5" stroke-width="0.5"/>
<circle cx="65.25" cy="333.70" r="1.70" fill="#93dbac" stroke="#000" stroke-opacity="0.5" stroke-width="0.5"/>
<circle cx="68.84" cy="333.70" r="1.70" fill="#93dbac" stroke="#000" stroke-opacity="0.5" stroke-width="0.5"/>
<circle cx="72.43" cy="333.70" r="1.70" fill="#93dbac" stroke="#000" stroke-opacity="0.5" stroke-width="0.5"/>
<circle cx="76.02" cy="333.19" r="1.70" fill="#93dbac" stroke="#000" stroke-opacity="0.5" stroke-width="0.5"/>
<circle cx="79.61" cy="332.68" r="1.70" fill="#93dbac" stroke="#000" stroke-opacity="0.5" stroke-width="0.5"/>
<circle cx="83.20" cy="332.48" r="1.70" fill="#93dbac" stroke="#000" stroke-opacity="0.5" stroke-width="0.5"/>
<circle cx="86.79" cy="332.29" r="1.70" fill="#93dbac" stroke="#000" stroke-opacity="0.5" stroke-width="0.5"/>
<circle cx="90.38" cy="332.10" r="1.70" fill="#93dbac" stroke="#000" stroke-opacity="0.5" stroke-width="0.5"/>
<circle cx="93.97" cy="331.91" r="1.70" fill="#93dbac" stroke="#000" stroke-opacity="0.5" stroke-width="0.5"/>
<circle cx="97.56" cy="331.72" r="1.70" fill="#93dbac" stroke="#000" stroke-opacity="0.5" stroke-width="0.5"/>
<circle cx="101.15" cy="331.52" r="1.70" fill="#93dbac" stroke="#000" stroke-opacity="0.5" stroke-width="0.5"/>
<circle cx="104.74" cy="331.33" r="1.70" fill="#93dbac" stroke="#000" stroke-opacity="0.5" stroke-width="0.5"/>
<circle cx="108.33" cy="331.14" r="1.70" fill="#93dbac" stroke="#000" stroke-opacity="0.5" stroke-width="0.5"/>
<circle cx="111.92" cy="331.14" r="1.70" fill="#93dbac" stroke="#000" stroke-opacity="0.5" stroke-width="0.5"/>
<circle cx="115.51" cy="330.63" r="1.70" fill="#93dbac" stroke="#000" stroke-opacity="0.5" stroke-width="0.5"/>
<circle cx="119.10" cy="330.24" r="1.70" fill="#93dbac" stroke="#000" stroke-opacity="0.5" stroke-width="0.5"/>
<circle cx="122.69" cy="329.48" r="1.70" fill="#93dbac" stroke="#000" stroke-opacity="0.5" stroke-width="0.5"/>
<circle cx="126.28" cy="328.84" r="1.70" fill="#93dbac" stroke="#000" stroke-opacity="0.5" stroke-width="0.5"/>
<circle cx="129.87" cy="328.07" r="1.70" fill="#93dbac" stroke="#000" stroke-opacity="0.5" stroke-width="0.5"/>
<circle cx="133.46" cy="327.43" r="1.70" fill="#93dbac" stroke="#000" stroke-opacity="0.5" stroke-width="0.5"/>
<circle cx="137.05" cy="326.79" r="1.70" fill="#93dbac" stroke="#000" stroke-opacity="0.5" stroke-width="0.5"/>
<circle cx="140.64" cy="326.28" r="1.70" fill="#93dbac" stroke="#000" stroke-opacity="0.5" stroke-width="0.5"/>
<circle cx="144.23" cy="325.51" r="1.70" fill="#93dbac" stroke="#000" stroke-opacity="0.5" stroke-width="0.5"/>
<circle cx="147.82" cy="324.48" r="1.70" fill="#93dbac" stroke="#000" stroke-opacity="0.5" stroke-width="0.5"/>
<circle cx="151.41" cy="325.25" r="1.70" fill="#93dbac" stroke="#000" stroke-opacity="0.5" stroke-width="0.5"/>
<circle cx="155.00" cy="322.95" r="1.70" fill="#93dbac" stroke="#000" stroke-opacity="0.5" stroke-width="0.5"/>
<circle cx="158.59" cy="320.90" r="1.70" fill="#93dbac" stroke="#000" stroke-opacity="0.5" stroke-width="0.5"/>
<circle cx="162.18" cy="319.36" r="1.70" fill="#93dbac" stroke="#000" stroke-opacity="0.5" stroke-width="0.5"/>
<circle cx="165.77" cy="318.85" r="1.70" fill="#93dbac" stroke="#000" stroke-opacity="0.5" stroke-width="0.5"/>
<circle cx="169.36" cy="318.34" r="1.70" fill="#93dbac" stroke="#000" stroke-opacity="0.5" stroke-width="0.5"/>
<circle cx="172.95" cy="317.83" r="1.70" fill="#93dbac" stroke="#000" stroke-opacity="0.5" stroke-width="0.5"/>
<circle cx="176.54" cy="314.76" r="1.70" fill="#93dbac" stroke="#000" stroke-opacity="0.5" stroke-width="0.5"/>
<circle cx="180.13" cy="312.45" r="1.70" fill="#93dbac" stroke="#000" stroke-opacity="0.5" stroke-width="0.5"/>
<circle cx="183.72" cy="310.66" r="1.70" fill="#93dbac" stroke="#000" stroke-opacity="0.5" stroke-width="0.5"/>
<circle cx="187.31" cy="310.66" r="1.70" fill="#93dbac" stroke="#000" stroke-opacity="0.5" stroke-width="0.5"/>
<circle cx="190.90" cy="306.82" r="1.70" fill="#93dbac" stroke="#000" stroke-opacity="0.5" stroke-width="0.5"/>
<circle cx="194.49" cy="305.03" r="1.70" fill="#93dbac" stroke="#000" stroke-opacity="0.5" stroke-width="0.5"/>
<circle cx="198.08" cy="299.40" r="1.70" fill="#93dbac" stroke="#000" stroke-opacity="0.5" stroke-width="0.5"/>
<circle cx="201.67" cy="296.84" r="1.70" fill="#93dbac" stroke="#000" stroke-opacity="0.5" stroke-width="0.5"/>
<circle cx="205.26" cy="290.18" r="1.70" fill="#93dbac" stroke="#000" stroke-opacity="0.5" stroke-width="0.5"/>
<circle cx="208.85" cy="279.17" r="1.70" fill="#93dbac" stroke="#000" stroke-opacity="0.5" stroke-width="0.5"/>
<circle cx="212.44" cy="281.48" r="1.70" fill="#93dbac" stroke="#000" stroke-opacity="0.5" stroke-width="0.5"/>
<circle cx="216.03" cy="281.22" r="1.70" fill="#93dbac" stroke="#000" stroke-opacity="0.5" stroke-width="0.5"/>
<circle cx="219.62" cy="277.89" r="1.70" fill="#93dbac" stroke="#000" stroke-opacity="0.5" stroke-width="0.5"/>
<circle cx="223.21" cy="277.89" r="1.70" fill="#93dbac" stroke="#000" stroke-opacity="0.5" stroke-width="0.5"/>
<circle cx="226.80" cy="277.38" r="1.70" fill="#93dbac" stroke="#000" stroke-opacity="0.5" stroke-width="0.5"/>
<circle cx="230.39" cy="266.12" r="1.70" fill="#93dbac" stroke="#000" stroke-opacity="0.5" stroke-width="0.5"/>
<circle cx="233.98" cy="266.12" r="1.70" fill="#93dbac" stroke="#000" stroke-opacity="0.5" stroke-width="0.5"/>
<circle cx="237.57" cy="266.12" r="1.70" fill="#93dbac" stroke="#000" stroke-opacity="0.5" stroke-width="0.5"/>
<circle cx="241.16" cy="263.81" r="1.70" fill="#93dbac" stroke="#000" stroke-opacity="0.5" stroke-width="0.5"/>
<circle cx="244.75" cy="271.24" r="1.70" fill="#93dbac" stroke="#000" stroke-opacity="0.5" stroke-width="0.5"/>
<circle cx="248.34" cy="271.24" r="1.70" fill="#93dbac" stroke="#000" stroke-opacity="0.5" stroke-width="0.5"/>
<circle cx="251.93" cy="294.28" r="1.70" fill="#93dbac" stroke="#000" stroke-opacity="0.5" stroke-width="0.5"/>
<circle cx="255.52" cy="231.04" r="1.70" fill="#93dbac" stroke="#000" stroke-opacity="0.5" stroke-width="0.5"/>
<circle cx="259.11" cy="282.50" r="1.70" fill="#93dbac" stroke="#000" stroke-opacity="0.5" stroke-width="0.5"/>
<circle cx="262.70" cy="333.70" r="1.70" fill="#93dbac" stroke="#000" stroke-opacity="0.5" stroke-width="0.5"/>
<circle cx="266.29" cy="333.70" r="1.70" fill="#93dbac" stroke="#000" stroke-opacity="0.5" stroke-width="0.5"/>
<polyline points="47.30,333.70 50.89,333.70 54.48,333.70 58.07,333.70 61.66,333.70 65.25,333.70 68.84,333.70 72.43,333.70 76.02,333.19 79.61,332.68 83.20,332.48 86.79,332.29 90.38,332.10 93.97,331.91 97.56,331.72 101.15,331.52 104.74,331.33 108.33,331.14 111.92,330.88 115.51,330.50 119.10,330.12 122.69,329.35 126.28,328.58 129.87,327.94 133.46,327.30 137.05,326.53 140.64,325.76 144.23,325.00 147.82,323.46 151.41,322.18 155.00,321.67 158.59,319.88 162.18,318.34 165.77,316.55 169.36,316.29 172.95,314.76 176.54,313.73 180.13,315.01 183.72,313.22 187.31,315.78 190.90,316.55 194.49,317.57 198.08,317.06 201.67,315.78 205.26,316.80 208.85,318.08 212.44,316.55 216.03,315.27 219.62,323.20 223.21,331.40 226.80,331.14 230.39,333.70 233.98,347.01 237.57,333.70" fill="none" stroke="#eee6b0" stroke-width="0.45"/>
<polygon points="47.30,332.03 48.88,333.19 48.28,335.05 46.32,335.05 45.72,333.19" fill="#e2d26c" stroke="#000" stroke-opacity="0.5" stroke-width="0.5"/>
<polygon points="50.89,332.03 52.47,333.19 51.87,335.05 49.91,335.05 49.31,333.19" fill="#e2d26c" stroke="#000" stroke-opacity="0.5" stroke-width="0.5"/>
<polygon points="54.48,332.03 56.06,333.19 55.46,335.05 53.50,335.05 52.90,333.19" fill="#e2d26c" stroke="#000" stroke-opacity="0.5" stroke-width="0.5"/>
<polygon points="58.07,332.03 59.65,333.19 59.05,335.05 57.09,335.05 56.49,333.19" fill="#e2d26c" stroke="#000" stroke-opacity="0.5" stroke-width="0.5"/>
<polygon points="61.66,332.03 63.24,333.19 62.64,335.05 60.68,335.05 60.08,333.19" fill="#e2d26c" stroke="#000" stroke-opacity="0.5" stroke-width="0.5"/>
<polygon points="65.25,332.03 66.83,333.19 66.23,335.05 64.27,335.05 63.67,333.19" fill="#e2d26c" stroke="#000" stroke-opacity="0.5" stroke-width="0.5"/>
<polygon points="68.84,332.03 70.42,333.19 69.82,335.05 67.86,335.05 67.26,333.19" fill="#e2d26c" stroke="#000" stroke-opacity="0.5" stroke-width="0.5"/>
<polygon points="72.43,332.03 74.01,333.19 73.41,335.05 71.45,335.05 70.85,333.19" fill="#e2d26c" stroke="#000" stroke-opacity="0.5" stroke-width="0.5"/>
<polygon points="76.02,331.52 77.60,332.67 77.00,334.54 75.04,334.54 74.44,332.67" fill="#e2d26c" stroke="#000" stroke-opacity="0.5" stroke-width="0.5"/>
<polygon points="79.61,331.01 81.19,332.16 80.59,334.02 78.63,334.02 78.03,332.16" fill="#e2d26c" stroke="#000" stroke-opacity="0.5" stroke-width="0.5"/>
<polygon points="83.20,330.82 84.78,331.97 84.18,333.83 82.22,333.83 81.62,331.97" fill="#e2d26c" stroke="#000" stroke-opacity="0.5" stroke-width="0.5"/>
<polygon points="86.79,330.63 88.37,331.78 87.77,333.64 85.81,333.64 85.21,331.78" fill="#e2d26c" stroke="#000" stroke-opacity="0.5" stroke-width="0.5"/>
<polygon points="90.38,330.43 91.96,331.59 91.36,333.45 89.40,333.45 88.80,331.59" fill="#e2d26c" stroke="#000" stroke-opacity="0.5" stroke-width="0.5"/>
<polygon points="93.97,330.24 95.55,331.39 94.95,333.26 92.99,333.26 92.39,331.39" fill="#e2d26c" stroke="#000" stroke-opacity="0.5" stroke-width="0.5"/>
<polygon points="97.56,330.05 99.14,331.20 98.54,333.06 96.58,333.06 95.98,331.20" fill="#e2d26c" stroke="#000" stroke-opacity="0.5" stroke-width="0.5"/>
<polygon points="101.15,329.86 102.73,331.01 102.13,332.87 100.17,332.87 99.57,331.01" fill="#e2d26c" stroke="#000" stroke-opacity="0.5" stroke-width="0.5"/>
<polygon points="104.74,329.67 106.32,330.82 105.72,332.68 103.76,332.68 103.16,330.82" fill="#e2d26c" stroke="#000" stroke-opacity="0.5" stroke-width="0.5"/>
<polygon points="108.33,329.47 109.91,330.63 109.31,332.49 107.35,332.49 106.75,330.63" fill="#e2d26c" stroke="#000" stroke-opacity="0.5" stroke-width="0.5"/>
<polygon points="111.92,329.22 113.50,330.37 112.90,332.23 110.94,332.23 110.34,330.37" fill="#e2d26c" stroke="#000" stroke-opacity="0.5" stroke-width="0.5"/>
<polygon points="115.51,328.83 117.09,329.99 116.49,331.85 114.53,331.85 113.93,329.99" fill="#e2d26c" stroke="#000" stroke-opacity="0.5" stroke-width="0.5"/>
<polygon points="119.10,328.45 120.68,329.60 120.08,331.46 118.12,331.46 117.52,329.60" fill="#e2d26c" stroke="#000" stroke-opacity="0.5" stroke-width="0.5"/>
<polygon points="122.69,327.68 124.27,328.83 123.67,330.70 121.71,330.70 121.11,328.83" fill="#e2d26c" stroke="#000" stroke-opacity="0.5" stroke-width="0.5"/>
<polygon points="126.28,326.91 127.86,328.07 127.26,329.93 125.30,329.93 124.70,328.07" fill="#e2d26c" stroke="#000" stroke-opacity="0.5" stroke-width="0.5"/>
<polygon points="129.87,326.27 131.45,327.43 130.85,329.29 128.89,329.29 128.29,327.43" fill="#e2d26c" stroke="#000" stroke-opacity="0.5" stroke-width="0.5"/>
<polygon points="133.46,325.63 135.04,326.79 134.44,328.65 132.48,328.65 131.88,326.79" fill="#e2d26c" stroke="#000" stroke-opacity="0.5" stroke-width="0.5"/>
<polygon points="137.05,324.87 138.63,326.02 138.03,327.88 136.07,327.88 135.47,326.02" fill="#e2d26c" stroke="#000" stroke-opacity="0.5" stroke-width="0.5"/>
<polygon points="140.64,324.10 142.22,325.25 141.62,327.11 139.66,327.11 139.06,325.25" fill="#e2d26c" stroke="#000" stroke-opacity="0.5" stroke-width="0.5"/>
<polygon points="144.23,323.33 145.81,324.48 145.21,326.34 143.25,326.34 142.65,324.48" fill="#e2d26c" stroke="#000" stroke-opacity="0.5" stroke-width="0.5"/>
<polygon points="147.82,321.79 149.40,322.95 148.80,324.81 146.84,324.81 146.24,322.95" fill="#e2d26c" stroke="#000" stroke-opacity="0.5" stroke-width="0.5"/>
<polygon points="151.41,320.51 152.99,321.67 152.39,323.53 150.43,323.53 149.83,321.67" fill="#e2d26c" stroke="#000" stroke-opacity="0.5" stroke-width="0.5"/>
<polygon points="155.00,320.00 156.58,321.15 155.98,323.02 154.02,323.02 153.42,321.15" fill="#e2d26c" stroke="#000" stroke-opacity="0.5" stroke-width="0.5"/>
<polygon points="158.59,318.21 160.17,319.36 159.57,321.22 157.61,321.22 157.01,319.36" fill="#e2d26c" stroke="#000" stroke-opacity="0.5" stroke-width="0.5"/>
<polygon points="162.18,316.67 163.76,317.83 163.16,319.69 161.20,319.69 160.60,317.83" fill="#e2d26c" stroke="#000" stroke-opacity="0.5" stroke-width="0.5"/>
<polygon points="165.77,314.88 167.35,316.03 166.75,317.90 164.79,317.90 164.19,316.03" fill="#e2d26c" stroke="#000" stroke-opacity="0.5" stroke-width="0.5"/>
<polygon points="169.36,314.63 170.94,315.78 170.34,317.64 168.38,317.64 167.78,315.78" fill="#e2d26c" stroke="#000" stroke-opacity="0.5" stroke-width="0.5"/>
<polygon points="172.95,313.09 174.53,314.24 173.93,316.10 171.97,316.10 171.37,314.24" fill="#e2d26c" stroke="#000" stroke-opacity="0.5" stroke-width="0.5"/>
<polygon points="176.54,312.07 178.12,313.22 177.52,315.08 175.56,315.08 174.96,313.22" fill="#e2d26c" stroke="#000" stroke-opacity="0.5" stroke-width="0.5"/>
<polygon points="180.13,313.35 181.71,314.50 181.11,316.36 179.15,316.36 178.55,314.50" fill="#e2d26c" stroke="#000" stroke-opacity="0.5" stroke-width="0.5"/>
<polygon points="183.72,311.55 185.30,312.71 184.70,314.57 182.74,314.57 182.14,312.71" fill="#e2d26c" stroke="#000" stroke-opacity="0.5" stroke-width="0.5"/>
<polygon points="187.31,314.11 188.89,315.27 188.29,317.13 186.33,317.13 185.73,315.27" fill="#e2d26c" stroke="#000" stroke-opacity="0.5" stroke-width="0.5"/>
<polygon points="190.90,314.88 192.48,316.03 191.88,317.90 189.92,317.90 189.32,316.03" fill="#e2d26c" stroke="#000" stroke-opacity="0.5" stroke-width="0.5"/>
<polygon points="194.49,315.91 196.07,317.06 195.47,318.92 193.51,318.92 192.91,317.06" fill="#e2d26c" stroke="#000" stroke-opacity="0.5" stroke-width="0.5"/>
<polygon points="198.08,315.39 199.66,316.55 199.06,318.41 197.10,318.41 196.50,316.55" fill="#e2d26c" stroke="#000" stroke-opacity="0.5" stroke-width="0.5"/>
<polygon points="201.67,314.11 203.25,315.27 202.65,317.13 200.69,317.13 200.09,315.27" fill="#e2d26c" stroke="#000" stroke-opacity="0.5" stroke-width="0.5"/>
<polygon points="205.26,315.14 206.84,316.29 206.24,318.15 204.28,318.15 203.68,316.29" fill="#e2d26c" stroke="#000" stroke-opacity="0.5" stroke-width="0.5"/>
<polygon points="208.85,316.42 210.43,317.57 209.83,319.43 207.87,319.43 207.27,317.57" fill="#e2d26c" stroke="#000" stroke-opacity="0.5" stroke-width="0.5"/>
<polygon points="212.44,314.88 214.02,316.03 213.42,317.90 211.46,317.90 210.86,316.03" fill="#e2d26c" stroke="#000" stroke-opacity="0.5" stroke-width="0.5"/>
<polygon points="216.03,313.60 217.61,314.75 217.01,316.62 215.05,316.62 214.45,314.75" fill="#e2d26c" stroke="#000" stroke-opacity="0.5" stroke-width="0.5"/>
<polygon points="219.62,321.54 221.20,322.69 220.60,324.55 218.64,324.55 218.04,322.69" fill="#e2d26c" stroke="#000" stroke-opacity="0.5" stroke-width="0.5"/>
<polygon points="223.21,329.73 224.79,330.88 224.19,332.74 222.23,332.74 221.63,330.88" fill="#e2d26c" stroke="#000" stroke-opacity="0.5" stroke-width="0.5"/>
<polygon points="226.80,329.47 228.38,330.63 227.78,332.49 225.82,332.49 225.22,330.63" fill="#e2d26c" stroke="#000" stroke-opacity="0.5" stroke-width="0.5"/>
<polygon points="230.39,332.03 231.97,333.19 231.37,335.05 229.41,335.05 228.81,333.19" fill="#e2d26c" stroke="#000" stroke-opacity="0.5" stroke-width="0.5"/>
<polygon points="233.98,345.35 235.56,346.50 234.96,348.36 233.00,348.36 232.40,346.50" fill="#e2d26c" stroke="#000" stroke-opacity="0.5" stroke-width="0.5"/>
<polygon points="237.57,332.03 239.15,333.19 238.55,335.05 236.59,335.05 235.99,333.19" fill="#e2d26c" stroke="#000" stroke-opacity="0.5" stroke-width="0.5"/>
<polyline points="47.30,333.70 50.89,333.70 54.48,333.70 58.07,333.70 61.66,333.70 65.25,333.70 68.84,333.70 72.43,333.70 76.02,333.19 79.61,332.68 83.20,332.48 86.79,332.29 90.38,332.10 93.97,331.91 97.56,331.72 101.15,331.52 104.74,331.33 108.33,331.14 111.92,330.88 115.51,330.50 119.10,330.12 122.69,329.35 126.28,328.58 129.87,327.94 133.46,327.30 137.05,326.66 140.64,326.02 144.23,325.25 147.82,323.20 151.41,321.92 155.00,321.92 158.59,320.64 162.18,319.62 165.77,319.62 169.36,319.62 172.95,319.36 176.54,315.52 180.13,313.22 183.72,313.48 187.31,313.22 190.90,309.64 194.49,307.33 198.08,301.96 201.67,300.16 205.26,301.44 208.85,301.70 212.44,300.93 216.03,300.16 219.62,297.35 223.21,295.04 226.80,294.28 230.39,286.60 233.98,286.60 237.57,287.62 241.16,299.65 244.75,319.88 248.34,333.70 251.93,333.70 255.52,333.70 259.11,333.70" fill="none" stroke="#f2bfc4" stroke-width="0.45"/>
<rect x="45.60" y="332.00" width="3.40" height="3.40" fill="#e78b96" stroke="#000" stroke-opacity="0.5" stroke-width="0.5"/>
<rect x="49.19" y="332.00" width="3.40" height="3.40" fill="#e78b96" stroke="#000" stroke-opacity="0.5" stroke-width="0.5"/>
<rect x="52.78" y="332.00" width="3.40" height="3.40" fill="#e78b96" stroke="#000" stroke-opacity="0.5" stroke-width="0.5"/>
<rect x="56.37" y="332.00" width="3.40" height="3.40" fill="#e78b96" stroke="#000" stroke-opacity="0.5" stroke-width="0.5"/>
<rect x="59.96" y="332.00" width="3.40" height="3.40" fill="#e78b96" stroke="#000" stroke-opacity="0.5" stroke-width="0.5"/>
<rect x="63.55" y="332.00" width="3.40" height="3.40" fill="#e78b96" stroke="#000" stroke-opacity="0.5" stroke-width="0.5"/>
<rect x="67.14" y="332.00" width="3.40" height="3.40" fill="#e78b96" stroke="#000" stroke-opacity="0.5" stroke-width="0.5"/>
<rect x="70.73" y="332.00" width="3.40" height="3.40" fill="#e78b96" stroke="#000" stroke-opacity="0.5" stroke-width="0.5"/>
<rect x="74.32" y="331.49" width="3.40" height="3.40" fill="#e78b96" stroke="#000" stroke-opacity="0.5" stroke-width="0.5"/>
<rect x="77.91" y="330.98" width="3.40" height="3.40" fill="#e78b96" stroke="#000" stroke-opacity="0.5" stroke-width="0.5"/>
<rect x="81.50" y="330.78" width="3.40" height="3.40" fill="#e78b96" stroke="#000" stroke-opacity="0.5" stroke-width="0.5"/>
<rect x="85.09" y="330.59" width="3.40" height="3.40" fill="#e78b96" stroke="#000" stroke-opacity="0.5" stroke-width="0.5"/>
<rect x="88.68" y="330.40" width="3.40" height="3.40" fill="#e78b96" stroke="#000" stroke-opacity="0.5" stroke-width="0.5"/>
<rect x="92.27" y="330.21" width="3.40" height="3.40" fill="#e78b96" stroke="#000" stroke-opacity="0.5" stroke-width="0.5"/>
<rect x="95.86" y="330.02" width="3.40" height="3.40" fill="#e78b96" stroke="#000" stroke-opacity="0.5" stroke-width="0.5"/>
<rect x="99.45" y="329.82" width="3.40" height="3.40" fill="#e78b96" stroke="#000" stroke-opacity="0.5" stroke-width="0.5"/>
<rect x="103.04" y="329.63" width="3.40" height="3.40" fill="#e78b96" stroke="#000" stroke-opacity="0.5" stroke-width="0.5"/>
<rect x="106.63" y="329.44" width="3.40" height="3.40" fill="#e78b96" stroke="#000" stroke-opacity="0.5" stroke-width="0.5"/>
<rect x="110.22" y="329.18" width="3.40" height="3.40" fill="#e78b96" stroke="#000" stroke-opacity="0.5" stroke-width="0.5"/>
<rect x="113.81" y="328.80" width="3.40" height="3.40" fill="#e78b96" stroke="#000" stroke-opacity="0.5" stroke-width="0.5"/>
<rect x="117.40" y="328.42" width="3.40" height="3.40" fill="#e78b96" stroke="#000" stroke-opacity="0.5" stroke-width="0.5"/>
<rect x="120.99" y="327.65" width="3.40" height="3.40" fill="#e78b96" stroke="#000" stroke-opacity="0.5" stroke-width="0.5"/>
<rect x="124.58" y="326.88" width="3.40" height="3.40" fill="#e78b96" stroke="#000" stroke-opacity="0.5" stroke-width="0.5"/>
<rect x="128.17" y="326.24" width="3.40" height="3.40" fill="#e78b96" stroke="#000" stroke-opacity="0.5" stroke-width="0.5"/>
<rect x="131.76" y="325.60" width="3.40" height="3.40" fill="#e78b96" stroke="#000" stroke-opacity="0.5" stroke-width="0.5"/>
<rect x="135.35" y="324.96" width="3.40" height="3.40" fill="#e78b96" stroke="#000" stroke-opacity="0.5" stroke-width="0.5"/>
<rect x="138.94" y="324.32" width="3.40" height="3.40" fill="#e78b96" stroke="#000" stroke-opacity="0.5" stroke-width="0.5"/>
<rect x="142.53" y="323.55" width="3.40" height="3.40" fill="#e78b96" stroke="#000" stroke-opacity="0.5" stroke-width="0.5"/>
<rect x="146.12" y="321.50" width="3.40" height="3.40" fill="#e78b96" stroke="#000" stroke-opacity="0.5" stroke-width="0.5"/>
<rect x="149.71" y="320.22" width="3.40" height="3.40" fill="#e78b96" stroke="#000" stroke-opacity="0.5" stroke-width="0.5"/>
<rect x="153.30" y="320.22" width="3.40" height="3.40" fill="#e78b96" stroke="#000" stroke-opacity="0.5" stroke-width="0.5"/>
<rect x="156.89" y="318.94" width="3.40" height="3.40" fill="#e78b96" stroke="#000" stroke-opacity="0.5" stroke-width="0.5"/>
<rect x="160.48" y="317.92" width="3.40" height="3.40" fill="#e78b96" stroke="#000" stroke-opacity="0.5" stroke-width="0.5"/>
<rect x="164.07" y="317.92" width="3.40" height="3.40" fill="#e78b96" stroke="#000" stroke-opacity="0.5" stroke-width="0.5"/>
<rect x="167.66" y="317.92" width="3.40" height="3.40" fill="#e78b96" stroke="#000" stroke-opacity="0.5" stroke-width="0.5"/>
<rect x="171.25" y="317.66" width="3.40" height="3.40" fill="#e78b96" stroke="#000" stroke-opacity="0.5" stroke-width="0.5"/>
<rect x="174.84" y="313.82" width="3.40" height="3.40" fill="#e78b96" stroke="#000" stroke-opacity="0.5" stroke-width="0.5"/>
<rect x="178.43" y="311.52" width="3.40" height="3.40" fill="#e78b96" stroke="#000" stroke-opacity="0.5" stroke-width="0.5"/>
<rect x="182.02" y="311.78" width="3.40" height="3.40" fill="#e78b96" stroke="#000" stroke-opacity="0.5" stroke-width="0.5"/>
<rect x="185.61" y="311.52" width="3.40" height="3.40" fill="#e78b96" stroke="#000" stroke-opacity="0.5" stroke-width="0.5"/>
<rect x="189.20" y="307.94" width="3.40" height="3.40" fill="#e78b96" stroke="#000" stroke-opacity="0.5" stroke-width="0.5"/>
<rect x="192.79" y="305.63" width="3.40" height="3.40" fill="#e78b96" stroke="#000" stroke-opacity="0.5" stroke-width="0.5"/>
<rect x="196.38" y="300.26" width="3.40" height="3.40" fill="#e78b96" stroke="#000" stroke-opacity="0.5" stroke-width="0.5"/>
<rect x="199.97" y="298.46" width="3.40" height="3.40" fill="#e78b96" stroke="#000" stroke-opacity="0.5" stroke-width="0.5"/>
<rect x="203.56" y="299.74" width="3.40" height="3.40" fill="#e78b96" stroke="#000" stroke-opacity="0.5" stroke-width="0.5"/>
<rect x="207.15" y="300.00" width="3.40" height="3.40" fill="#e78b96" stroke="#000" stroke-opacity="0.5" stroke-width="0.5"/>
<rect x="210.74" y="299.23" width="3.40" height="3.40" fill="#e78b96" stroke="#000" stroke-opacity="0.5" stroke-width="0.5"/>
<rect x="214.33" y="298.46" width="3.40" height="3.40" fill="#e78b96" stroke="#000" stroke-opacity="0.5" stroke-width="0.5"/>
<rect x="217.92" y="295.65" width="3.40" height="3.40" fill="#e78b96" stroke="#000" stroke-opacity="0.5" stroke-width="0.5"/>
<rect x="221.51" y="293.34" width="3.40" height="3.40" fill="#e78b96" stroke="#000" stroke-opacity="0.5" stroke-width="0.5"/>
<rect x="225.10" y="292.58" width="3.40" height="3.40" fill="#e78b96" stroke="#000" stroke-opacity="0.5" stroke-width="0.5"/>
<rect x="228.69" y="284.90" width="3.40" height="3.40" fill="#e78b96" stroke="#000" stroke-opacity="0.5" stroke-width="0.5"/>
<rect x="232.28" y="284.90" width="3.40" height="3.40" fill="#e78b96" stroke="#000" stroke-opacity="0.5" stroke-width="0.5"/>
<rect x="235.87" y="285.92" width="3.40" height="3.40" fill="#e78b96" stroke="#000" stroke-opacity="0.5" stroke-width="0.5"/>
<rect x="239.46" y="297.95" width="3.40" height="3.40" fill="#e78b96" stroke="#000" stroke-opacity="0.5" stroke-width="0.5"/>
<rect x="243.05" y="318.18" width="3.40" height="3.40" fill="#e78b96" stroke="#000" stroke-opacity="0.5" stroke-width="0.5"/>
<rect x="246.64" y="332.00" width="3.40" height="3.40" fill="#e78b96" stroke="#000" stroke-opacity="0.5" stroke-width="0.5"/>
<rect x="250.23" y="332.00" width="3.40" height="3.40" fill="#e78b96" stroke="#000" stroke-opacity="0.5" stroke-width="0.5"/>
<rect x="253.82" y="332.00" width="3.40" height="3.40" fill="#e78b96" stroke="#000" stroke-opacity="0.5" stroke-width="0.5"/>
<rect x="257.41" y="332.00" width="3.40" height="3.40" fill="#e78b96" stroke="#000" stroke-opacity="0.5" stroke-width="0.5"/>
<polyline points="47.30,333.70 50.89,333.70 54.48,333.70 58.07,333.70 61.66,333.70 65.25,333.70 68.84,333.70 72.43,333.70 76.02,333.70 79.61,333.70 83.20,333.70 86.79,333.70 90.38,333.70 93.97,333.44 97.56,333.19 101.15,332.93 104.74,332.68 108.33,332.42 111.92,332.29 115.51,332.16 119.10,331.65 122.69,331.14 126.28,330.88 129.87,330.63 133.46,330.12 137.05,329.86 140.64,329.09 144.23,328.58 147.82,327.56 151.41,327.81 155.00,327.30 158.59,326.79 162.18,325.25 165.77,325.25 169.36,325.76 172.95,327.30 176.54,328.32 180.13,328.32 183.72,325.25 187.31,326.28 190.90,326.02 194.49,328.84 198.08,327.56 201.67,326.02 205.26,326.79 208.85,332.93 212.44,338.82 216.03,326.53 219.62,326.53 223.21,340.61 226.80,333.70 230.39,359.30 233.98,359.30 237.57,359.30" fill="none" stroke="#ee7f9c" stroke-width="0.45"/>
<polygon points="47.30,331.90 45.50,335.50 49.10,335.50" fill="#de2758" stroke="#000" stroke-opacity="0.5" stroke-width="0.5"/>
<polygon points="50.89,331.90 49.09,335.50 52.69,335.50" fill="#de2758" stroke="#000" stroke-opacity="0.5" stroke-width="0.5"/>
<polygon points="54.48,331.90 52.68,335.50 56.28,335.50" fill="#de2758" stroke="#000" stroke-opacity="0.5" stroke-width="0.5"/>
<polygon points="58.07,331.90 56.27,335.50 59.87,335.50" fill="#de2758" stroke="#000" stroke-opacity="0.5" stroke-width="0.5"/>
<polygon points="61.66,331.90 59.86,335.50 63.46,335.50" fill="#de2758" stroke="#000" stroke-opacity="0.5" stroke-width="0.5"/>
<polygon points="65.25,331.90 63.45,335.50 67.05,335.50" fill="#de2758" stroke="#000" stroke-opacity="0.5" stroke-width="0.5"/>
<polygon points="68.84,331.90 67.04,335.50 70.64,335.50" fill="#de2758" stroke="#000" stroke-opacity="0.5" stroke-width="0.5"/>
<polygon points="72.43,331.90 70.63,335.50 74.23,335.50" fill="#de2758" stroke="#000" stroke-opacity="0.5" stroke-width="0.5"/>
<polygon points="76.02,331.90 74.22,335.50 77.82,335.50" fill="#de2758" stroke="#000" stroke-opacity="0.5" stroke-width="0.5"/>
<polygon points="79.61,331.90 77.81,335.50 81.41,335.50" fill="#de2758" stroke="#000" stroke-opacity="0.5" stroke-width="0.5"/>
<polygon points="83.20,331.90 81.40,335.50 85.00,335.50" fill="#de2758" stroke="#000" stroke-opacity="0.5" stroke-width="0.5"/>
<polygon points="86.79,331.90 84.99,335.50 88.59,335.50" fill="#de2758" stroke="#000" stroke-opacity="0.5" stroke-width="0.5"/>
<polygon points="90.38,331.90 88.58,335.50 92.18,335.50" fill="#de2758" stroke="#000" stroke-opacity="0.5" stroke-width="0.5"/>
<polygon points="93.97,331.64 92.17,335.24 95.77,335.24" fill="#de2758" stroke="#000" stroke-opacity="0.5" stroke-width="0.5"/>
<polygon points="97.56,331.39 95.76,334.99 99.36,334.99" fill="#de2758" stroke="#000" stroke-opacity="0.5" stroke-width="0.5"/>
<polygon points="101.15,331.13 99.35,334.73 102.95,334.73" fill="#de2758" stroke="#000" stroke-opacity="0.5" stroke-width="0.5"/>
<polygon points="104.74,330.88 102.94,334.48 106.54,334.48" fill="#de2758" stroke="#000" stroke-opacity="0.5" stroke-width="0.5"/>
<polygon points="108.33,330.62 106.53,334.22 110.13,334.22" fill="#de2758" stroke="#000" stroke-opacity="0.5" stroke-width="0.5"/>
<polygon points="111.92,330.49 110.12,334.09 113.72,334.09" fill="#de2758" stroke="#000" stroke-opacity="0.5" stroke-width="0.5"/>
<polygon points="115.51,330.36 113.71,333.96 117.31,333.96" fill="#de2758" stroke="#000" stroke-opacity="0.5" stroke-width="0.5"/>
<polygon points="119.10,329.85 117.30,333.45 120.90,333.45" fill="#de2758" stroke="#000" stroke-opacity="0.5" stroke-width="0.5"/>
<polygon points="122.69,329.34 120.89,332.94 124.49,332.94" fill="#de2758" stroke="#000" stroke-opacity="0.5" stroke-width="0.5"/>
<polygon points="126.28,329.08 124.48,332.68 128.08,332.68" fill="#de2758" stroke="#000" stroke-opacity="0.5" stroke-width="0.5"/>
<polygon points="129.87,328.83 128.07,332.43 131.67,332.43" fill="#de2758" stroke="#000" stroke-opacity="0.5" stroke-width="0.5"/>
<polygon points="133.46,328.32 131.66,331.92 135.26,331.92" fill="#de2758" stroke="#000" stroke-opacity="0.5" stroke-width="0.5"/>
<polygon points="137.05,328.06 135.25,331.66 138.85,331.66" fill="#de2758" stroke="#000" stroke-opacity="0.5" stroke-width="0.5"/>
<polygon points="140.64,327.29 138.84,330.89 142.44,330.89" fill="#de2758" stroke="#000" stroke-opacity="0.5" stroke-width="0.5"/>
<polygon points="144.23,326.78 142.43,330.38 146.03,330.38" fill="#de2758" stroke="#000" stroke-opacity="0.5" stroke-width="0.5"/>
<polygon points="147.82,325.76 146.02,329.36 149.62,329.36" fill="#de2758" stroke="#000" stroke-opacity="0.5" stroke-width="0.5"/>
<polygon points="151.41,326.01 149.61,329.61 153.21,329.61" fill="#de2758" stroke="#000" stroke-opacity="0.5" stroke-width="0.5"/>
<polygon points="155.00,325.50 153.20,329.10 156.80,329.10" fill="#de2758" stroke="#000" stroke-opacity="0.5" stroke-width="0.5"/>
<polygon points="158.59,324.99 156.79,328.59 160.39,328.59" fill="#de2758" stroke="#000" stroke-opacity="0.5" stroke-width="0.5"/>
<polygon points="162.18,323.45 160.38,327.05 163.98,327.05" fill="#de2758" stroke="#000" stroke-opacity="0.5" stroke-width="0.5"/>
<polygon points="165.77,323.45 163.97,327.05 167.57,327.05" fill="#de2758" stroke="#000" stroke-opacity="0.5" stroke-width="0.5"/>
<polygon points="169.36,323.96 167.56,327.56 171.16,327.56" fill="#de2758" stroke="#000" stroke-opacity="0.5" stroke-width="0.5"/>
<polygon points="172.95,325.50 171.15,329.10 174.75,329.10" fill="#de2758" stroke="#000" stroke-opacity="0.5" stroke-width="0.5"/>
<polygon points="176.54,326.52 174.74,330.12 178.34,330.12" fill="#de2758" stroke="#000" stroke-opacity="0.5" stroke-width="0.5"/>
<polygon points="180.13,326.52 178.33,330.12 181.93,330.12" fill="#de2758" stroke="#000" stroke-opacity="0.5" stroke-width="0.5"/>
<polygon points="183.72,323.45 181.92,327.05 185.52,327.05" fill="#de2758" stroke="#000" stroke-opacity="0.5" stroke-width="0.5"/>
<polygon points="187.31,324.48 185.51,328.08 189.11,328.08" fill="#de2758" stroke="#000" stroke-opacity="0.5" stroke-width="0.5"/>
<polygon points="190.90,324.22 189.10,327.82 192.70,327.82" fill="#de2758" stroke="#000" stroke-opacity="0.5" stroke-width="0.5"/>
<polygon points="194.49,327.04 192.69,330.64 196.29,330.64" fill="#de2758" stroke="#000" stroke-opacity="0.5" stroke-width="0.5"/>
<polygon points="198.08,325.76 196.28,329.36 199.88,329.36" fill="#de2758" stroke="#000" stroke-opacity="0.5" stroke-width="0.5"/>
<polygon points="201.67,324.22 199.87,327.82 203.47,327.82" fill="#de2758" stroke="#000" stroke-opacity="0.5" stroke-width="0.5"/>
<polygon points="205.26,324.99 203.46,328.59 207.06,328.59" fill="#de2758" stroke="#000" stroke-opacity="0.5" stroke-width="0.5"/>
<polygon points="208.85,331.13 207.05,334.73 210.65,334.73" fill="#de2758" stroke="#000" stroke-opacity="0.5" stroke-width="0.5"/>
<polygon points="212.44,337.02 210.64,340.62 214.24,340.62" fill="#de2758" stroke="#000" stroke-opacity="0.5" stroke-width="0.5"/>
<polygon points="216.03,324.73 214.23,328.33 217.83,328.33" fill="#de2758" stroke="#000" stroke-opacity="0.5" stroke-width="0.5"/>
<polygon points="219.62,324.73 217.82,328.33 221.42,328.33" fill="#de2758" stroke="#000" stroke-opacity="0.5" stroke-width="0.5"/>
<polygon points="223.21,338.81 221.41,342.41 225.01,342.41" fill="#de2758" stroke="#000" stroke-opacity="0.5" stroke-width="0.5"/>
<polygon points="226.80,331.90 225.00,335.50 228.60,335.50" fill="#de2758" stroke="#000" stroke-opacity="0.5" stroke-width="0.5"/>
<polygon points="230.39,357.50 228.59,361.10 232.19,361.10" fill="#de2758" stroke="#000" stroke-opacity="0.5" stroke-width="0.5"/>
<polygon points="233.98,357.50 232.18,361.10 235.78,361.10" fill="#de2758" stroke="#000" stroke-opacity="0.5" stroke-width="0.5"/>
<polygon points="237.57,357.50 235.77,361.10 239.37,361.10" fill="#de2758" stroke="#000" stroke-opacity="0.5" stroke-width="0.5"/>
<rect x="42.2" y="227.6" width="48.3" height="49.79999999999998" rx="1.5" fill="#fff" fill-opacity="0.8" stroke="#dcdcdc" stroke-width="0.7"/>
<circle cx="53.70" cy="235.20" r="4.00" fill="#95dbad" stroke="#000" stroke-opacity="0.5" stroke-width="0.35"/>
<text transform="translate(67.8,237.64) scale(0.96,1)" font-family='"DejaVu Sans","Liberation Sans",sans-serif' font-size="7.9" fill="#000" stroke="#000" stroke-width="0.12">CN</text>
<polygon points="53.70,242.78 57.52,245.56 56.06,250.05 51.34,250.05 49.88,245.56" fill="#e3d577" stroke="#000" stroke-opacity="0.5" stroke-width="0.35"/>
<text transform="translate(67.8,249.24) scale(0.96,1)" font-family='"DejaVu Sans","Liberation Sans",sans-serif' font-size="7.9" fill="#000" stroke="#000" stroke-width="0.12">EMCI</text>
<rect x="49.80" y="255.20" width="7.80" height="7.80" fill="#e8959c" stroke="#000" stroke-opacity="0.5" stroke-width="0.35"/>
<text transform="translate(67.8,261.54) scale(0.96,1)" font-family='"DejaVu Sans","Liberation Sans",sans-serif' font-size="7.9" fill="#000" stroke="#000" stroke-width="0.12">LMCI</text>
<polygon points="53.70,268.10 49.90,275.70 57.50,275.70" fill="#e02a5b" stroke="#000" stroke-opacity="0.5" stroke-width="0.35"/>
<text transform="translate(67.8,273.34) scale(0.96,1)" font-family='"DejaVu Sans","Liberation Sans",sans-serif' font-size="7.9" fill="#000" stroke="#000" stroke-width="0.12">AD</text>
<text x="22.3" y="222.9" font-family='"Liberation Serif","DejaVu Serif",serif' font-weight="bold" font-size="27" fill="#000">c</text>
<line x1="296.3" y1="250.3" x2="311.1" y2="251.2" stroke="#1c1c1c" stroke-width="1.2"/>
<line x1="311.1" y1="251.2" x2="309.9" y2="265.1" stroke="#1c1c1c" stroke-width="1.2"/>
<line x1="309.9" y1="265.1" x2="295.5" y2="263.8" stroke="#1c1c1c" stroke-width="1.2"/>
<line x1="295.5" y1="263.8" x2="296.3" y2="250.3" stroke="#1c1c1c" stroke-width="1.2"/>
<line x1="303.1" y1="257.6" x2="296.3" y2="250.3" stroke="#1c1c1c" stroke-width="1.2"/>
<line x1="303.1" y1="257.6" x2="311.1" y2="251.2" stroke="#1c1c1c" stroke-width="1.2"/>
<line x1="303.1" y1="257.6" x2="295.5" y2="263.8" stroke="#1c1c1c" stroke-width="1.2"/>
<line x1="303.1" y1="257.6" x2="309.9" y2="265.1" stroke="#1c1c1c" stroke-width="1.2"/>
<line x1="296.3" y1="250.3" x2="281.5" y2="227.4" stroke="#1c1c1c" stroke-width="1.2"/>
<line x1="296.3" y1="250.3" x2="292.2" y2="231.9" stroke="#1c1c1c" stroke-width="1.2"/>
<line x1="296.3" y1="250.3" x2="272.4" y2="236.9" stroke="#1c1c1c" stroke-width="1.2"/>
<line x1="296.3" y1="250.3" x2="285.4" y2="240.1" stroke="#1c1c1c" stroke-width="1.2"/>
<line x1="296.3" y1="250.3" x2="276.8" y2="246.3" stroke="#1c1c1c" stroke-width="1.2"/>
<line x1="311.1" y1="251.2" x2="321.4" y2="227.4" stroke="#1c1c1c" stroke-width="1.2"/>
<line x1="311.1" y1="251.2" x2="312.6" y2="232.7" stroke="#1c1c1c" stroke-width="1.2"/>
<line x1="311.1" y1="251.2" x2="332.6" y2="237.2" stroke="#1c1c1c" stroke-width="1.2"/>
<line x1="311.1" y1="251.2" x2="319.6" y2="239.8" stroke="#1c1c1c" stroke-width="1.2"/>
<line x1="311.1" y1="251.2" x2="330.2" y2="246.6" stroke="#1c1c1c" stroke-width="1.2"/>
<line x1="295.5" y1="263.8" x2="278.6" y2="262.2" stroke="#1c1c1c" stroke-width="1.2"/>
<line x1="295.5" y1="263.8" x2="273" y2="268.3" stroke="#1c1c1c" stroke-width="1.2"/>
<line x1="295.5" y1="263.8" x2="286" y2="269.2" stroke="#1c1c1c" stroke-width="1.2"/>
<line x1="295.5" y1="263.8" x2="281.2" y2="279" stroke="#1c1c1c" stroke-width="1.2"/>
<line x1="295.5" y1="263.8" x2="289.8" y2="278.1" stroke="#1c1c1c" stroke-width="1.2"/>
<line x1="309.9" y1="265.1" x2="325.6" y2="268" stroke="#1c1c1c" stroke-width="1.2"/>
<line x1="309.9" y1="265.1" x2="316.4" y2="274.2" stroke="#1c1c1c" stroke-width="1.2"/>
<line x1="309.9" y1="265.1" x2="328.8" y2="278" stroke="#1c1c1c" stroke-width="1.2"/>
<line x1="309.9" y1="265.1" x2="309.9" y2="281.7" stroke="#1c1c1c" stroke-width="1.2"/>
<line x1="309.9" y1="265.1" x2="317.6" y2="287.2" stroke="#1c1c1c" stroke-width="1.2"/>
<circle cx="296.3" cy="250.3" r="3.3" fill="#757575"/>
<circle cx="296.3" cy="250.3" r="0.99" fill="#161616"/>
<circle cx="311.1" cy="251.2" r="3.3" fill="#757575"/>
<circle cx="311.1" cy="251.2" r="0.99" fill="#161616"/>
<circle cx="295.5" cy="263.8" r="3.3" fill="#757575"/>
<circle cx="295.5" cy="263.8" r="0.99" fill="#161616"/>
<circle cx="309.9" cy="265.1" r="3.3" fill="#757575"/>
<circle cx="309.9" cy="265.1" r="0.99" fill="#161616"/>
<circle cx="303.1" cy="257.6" r="3.3" fill="#757575"/>
<circle cx="303.1" cy="257.6" r="0.99" fill="#161616"/>
<circle cx="281.5" cy="227.4" r="3.3" fill="#757575"/>
<circle cx="281.5" cy="227.4" r="0.99" fill="#161616"/>
<circle cx="292.2" cy="231.9" r="3.3" fill="#757575"/>
<circle cx="292.2" cy="231.9" r="0.99" fill="#161616"/>
<circle cx="272.4" cy="236.9" r="3.3" fill="#757575"/>
<circle cx="272.4" cy="236.9" r="0.99" fill="#161616"/>
<circle cx="285.4" cy="240.1" r="3.3" fill="#757575"/>
<circle cx="285.4" cy="240.1" r="0.99" fill="#161616"/>
<circle cx="276.8" cy="246.3" r="3.3" fill="#757575"/>
<circle cx="276.8" cy="246.3" r="0.99" fill="#161616"/>
<circle cx="321.4" cy="227.4" r="3.3" fill="#757575"/>
<circle cx="321.4" cy="227.4" r="0.99" fill="#161616"/>
<circle cx="312.6" cy="232.7" r="3.3" fill="#757575"/>
<circle cx="312.6" cy="232.7" r="0.99" fill="#161616"/>
<circle cx="332.6" cy="237.2" r="3.3" fill="#757575"/>
<circle cx="332.6" cy="237.2" r="0.99" fill="#161616"/>
<circle cx="319.6" cy="239.8" r="3.3" fill="#757575"/>
<circle cx="319.6" cy="239.8" r="0.99" fill="#161616"/>
<circle cx="330.2" cy="246.6" r="3.3" fill="#757575"/>
<circle cx="330.2" cy="246.6" r="0.99" fill="#161616"/>
<circle cx="278.6" cy="262.2" r="3.3" fill="#757575"/>
<circle cx="278.6" cy="262.2" r="0.99" fill="#161616"/>
<circle cx="273" cy="268.3" r="3.3" fill="#757575"/>
<circle cx="273" cy="268.3" r="0.99" fill="#161616"/>
<circle cx="286" cy="269.2" r="3.3" fill="#757575"/>
<circle cx="286" cy="269.2" r="0.99" fill="#161616"/>
<circle cx="281.2" cy="279" r="3.3" fill="#757575"/>
<circle cx="281.2" cy="279" r="0.99" fill="#161616"/>
<circle cx="289.8" cy="278.1" r="3.3" fill="#757575"/>
<circle cx="289.8" cy="278.1" r="0.99" fill="#161616"/>
<circle cx="325.6" cy="268" r="3.3" fill="#757575"/>
<circle cx="325.6" cy="268" r="0.99" fill="#161616"/>
<circle cx="316.4" cy="274.2" r="3.3" fill="#757575"/>
<circle cx="316.4" cy="274.2" r="0.99" fill="#161616"/>
<circle cx="328.8" cy="278" r="3.3" fill="#757575"/>
<circle cx="328.8" cy="278" r="0.99" fill="#161616"/>
<circle cx="309.9" cy="281.7" r="3.3" fill="#757575"/>
<circle cx="309.9" cy="281.7" r="0.99" fill="#161616"/>
<circle cx="317.6" cy="287.2" r="3.3" fill="#757575"/>
<circle cx="317.6" cy="287.2" r="0.99" fill="#161616"/>
<line x1="294.5" y1="330.8" x2="306.7" y2="330.8" stroke="#1c1c1c" stroke-width="1.05"/>
<line x1="306.7" y1="330.8" x2="305.8" y2="342.4" stroke="#1c1c1c" stroke-width="1.05"/>
<line x1="305.8" y1="342.4" x2="293.3" y2="342.2" stroke="#1c1c1c" stroke-width="1.05"/>
<line x1="293.3" y1="342.2" x2="294.5" y2="330.8" stroke="#1c1c1c" stroke-width="1.05"/>
<line x1="300.2" y1="336.6" x2="294.5" y2="330.8" stroke="#1c1c1c" stroke-width="1.05"/>
<line x1="300.2" y1="336.6" x2="306.7" y2="330.8" stroke="#1c1c1c" stroke-width="1.05"/>
<line x1="300.2" y1="336.6" x2="293.3" y2="342.2" stroke="#1c1c1c" stroke-width="1.05"/>
<line x1="300.2" y1="336.6" x2="305.8" y2="342.4" stroke="#1c1c1c" stroke-width="1.05"/>
<line x1="294.5" y1="330.8" x2="287.1" y2="323.6" stroke="#1c1c1c" stroke-width="1.05"/>
<line x1="287.1" y1="323.6" x2="279.4" y2="307.7" stroke="#1c1c1c" stroke-width="1.05"/>
<line x1="287.1" y1="323.6" x2="289.2" y2="311.9" stroke="#1c1c1c" stroke-width="1.05"/>
<line x1="287.1" y1="323.6" x2="269.4" y2="316.3" stroke="#1c1c1c" stroke-width="1.05"/>
<line x1="287.1" y1="323.6" x2="274.1" y2="325.5" stroke="#1c1c1c" stroke-width="1.05"/>
<line x1="279.4" y1="307.7" x2="289.2" y2="311.9" stroke="#1c1c1c" stroke-width="1.05"/>
<line x1="279.4" y1="307.7" x2="269.4" y2="316.3" stroke="#1c1c1c" stroke-width="1.05"/>
<line x1="279.4" y1="307.7" x2="274.1" y2="325.5" stroke="#1c1c1c" stroke-width="1.05"/>
<line x1="289.2" y1="311.9" x2="269.4" y2="316.3" stroke="#1c1c1c" stroke-width="1.05"/>
<line x1="289.2" y1="311.9" x2="274.1" y2="325.5" stroke="#1c1c1c" stroke-width="1.05"/>
<line x1="269.4" y1="316.3" x2="274.1" y2="325.5" stroke="#1c1c1c" stroke-width="1.05"/>
<line x1="306.7" y1="330.8" x2="314.4" y2="323.4" stroke="#1c1c1c" stroke-width="1.05"/>
<line x1="314.4" y1="323.4" x2="318.2" y2="305.6" stroke="#1c1c1c" stroke-width="1.05"/>
<line x1="314.4" y1="323.4" x2="309.7" y2="310.7" stroke="#1c1c1c" stroke-width="1.05"/>
<line x1="314.4" y1="323.4" x2="331.8" y2="316.6" stroke="#1c1c1c" stroke-width="1.05"/>
<line x1="314.4" y1="323.4" x2="327" y2="326.1" stroke="#1c1c1c" stroke-width="1.05"/>
<line x1="318.2" y1="305.6" x2="309.7" y2="310.7" stroke="#1c1c1c" stroke-width="1.05"/>
<line x1="318.2" y1="305.6" x2="331.8" y2="316.6" stroke="#1c1c1c" stroke-width="1.05"/>
<line x1="318.2" y1="305.6" x2="327" y2="326.1" stroke="#1c1c1c" stroke-width="1.05"/>
<line x1="309.7" y1="310.7" x2="331.8" y2="316.6" stroke="#1c1c1c" stroke-width="1.05"/>
<line x1="309.7" y1="310.7" x2="327" y2="326.1" stroke="#1c1c1c" stroke-width="1.05"/>
<line x1="331.8" y1="316.6" x2="327" y2="326.1" stroke="#1c1c1c" stroke-width="1.05"/>
<line x1="293.3" y1="342.2" x2="285.3" y2="347.7" stroke="#1c1c1c" stroke-width="1.05"/>
<line x1="285.3" y1="347.7" x2="274.7" y2="340.9" stroke="#1c1c1c" stroke-width="1.05"/>
<line x1="285.3" y1="347.7" x2="268.5" y2="349.2" stroke="#1c1c1c" stroke-width="1.05"/>
<line x1="285.3" y1="347.7" x2="276.4" y2="358.7" stroke="#1c1c1c" stroke-width="1.05"/>
<line x1="285.3" y1="347.7" x2="286.8" y2="358.7" stroke="#1c1c1c" stroke-width="1.05"/>
<line x1="274.7" y1="340.9" x2="268.5" y2="349.2" stroke="#1c1c1c" stroke-width="1.05"/>
<line x1="274.7" y1="340.9" x2="276.4" y2="358.7" stroke="#1c1c1c" stroke-width="1.05"/>
<line x1="274.7" y1="340.9" x2="286.8" y2="358.7" stroke="#1c1c1c" stroke-width="1.05"/>
<line x1="268.5" y1="349.2" x2="276.4" y2="358.7" stroke="#1c1c1c" stroke-width="1.05"/>
<line x1="268.5" y1="349.2" x2="286.8" y2="358.7" stroke="#1c1c1c" stroke-width="1.05"/>
<line x1="276.4" y1="358.7" x2="286.8" y2="358.7" stroke="#1c1c1c" stroke-width="1.05"/>
<line x1="305.8" y1="342.4" x2="312.3" y2="349.2" stroke="#1c1c1c" stroke-width="1.05"/>
<line x1="312.3" y1="349.2" x2="322.5" y2="347.1" stroke="#1c1c1c" stroke-width="1.05"/>
<line x1="312.3" y1="349.2" x2="327.9" y2="356" stroke="#1c1c1c" stroke-width="1.05"/>
<line x1="312.3" y1="349.2" x2="307.3" y2="361.3" stroke="#1c1c1c" stroke-width="1.05"/>
<line x1="312.3" y1="349.2" x2="315.6" y2="365.8" stroke="#1c1c1c" stroke-width="1.05"/>
<line x1="322.5" y1="347.1" x2="327.9" y2="356" stroke="#1c1c1c" stroke-width="1.05"/>
<line x1="322.5" y1="347.1" x2="307.3" y2="361.3" stroke="#1c1c1c" stroke-width="1.05"/>
<line x1="322.5" y1="347.1" x2="315.6" y2="365.8" stroke="#1c1c1c" stroke-width="1.05"/>
<line x1="327.9" y1="356" x2="307.3" y2="361.3" stroke="#1c1c1c" stroke-width="1.05"/>
<line x1="327.9" y1="356" x2="315.6" y2="365.8" stroke="#1c1c1c" stroke-width="1.05"/>
<line x1="307.3" y1="361.3" x2="315.6" y2="365.8" stroke="#1c1c1c" stroke-width="1.05"/>
<circle cx="294.5" cy="330.8" r="3.3" fill="#757575"/>
<circle cx="294.5" cy="330.8" r="0.99" fill="#161616"/>
<circle cx="306.7" cy="330.8" r="3.3" fill="#757575"/>
<circle cx="306.7" cy="330.8" r="0.99" fill="#161616"/>
<circle cx="293.3" cy="342.2" r="3.3" fill="#757575"/>
<circle cx="293.3" cy="342.2" r="0.99" fill="#161616"/>
<circle cx="305.8" cy="342.4" r="3.3" fill="#757575"/>
<circle cx="305.8" cy="342.4" r="0.99" fill="#161616"/>
<circle cx="300.2" cy="336.6" r="3.3" fill="#757575"/>
<circle cx="300.2" cy="336.6" r="0.99" fill="#161616"/>
<circle cx="287.1" cy="323.6" r="3.3" fill="#757575"/>
<circle cx="287.1" cy="323.6" r="0.99" fill="#161616"/>
<circle cx="279.4" cy="307.7" r="3.3" fill="#757575"/>
<circle cx="279.4" cy="307.7" r="0.99" fill="#161616"/>
<circle cx="289.2" cy="311.9" r="3.3" fill="#757575"/>
<circle cx="289.2" cy="311.9" r="0.99" fill="#161616"/>
<circle cx="269.4" cy="316.3" r="3.3" fill="#757575"/>
<circle cx="269.4" cy="316.3" r="0.99" fill="#161616"/>
<circle cx="274.1" cy="325.5" r="3.3" fill="#757575"/>
<circle cx="274.1" cy="325.5" r="0.99" fill="#161616"/>
<circle cx="314.4" cy="323.4" r="3.3" fill="#757575"/>
<circle cx="314.4" cy="323.4" r="0.99" fill="#161616"/>
<circle cx="318.2" cy="305.6" r="3.3" fill="#757575"/>
<circle cx="318.2" cy="305.6" r="0.99" fill="#161616"/>
<circle cx="309.7" cy="310.7" r="3.3" fill="#757575"/>
<circle cx="309.7" cy="310.7" r="0.99" fill="#161616"/>
<circle cx="331.8" cy="316.6" r="3.3" fill="#757575"/>
<circle cx="331.8" cy="316.6" r="0.99" fill="#161616"/>
<circle cx="327" cy="326.1" r="3.3" fill="#757575"/>
<circle cx="327" cy="326.1" r="0.99" fill="#161616"/>
<circle cx="285.3" cy="347.7" r="3.3" fill="#757575"/>
<circle cx="285.3" cy="347.7" r="0.99" fill="#161616"/>
<circle cx="274.7" cy="340.9" r="3.3" fill="#757575"/>
<circle cx="274.7" cy="340.9" r="0.99" fill="#161616"/>
<circle cx="268.5" cy="349.2" r="3.3" fill="#757575"/>
<circle cx="268.5" cy="349.2" r="0.99" fill="#161616"/>
<circle cx="276.4" cy="358.7" r="3.3" fill="#757575"/>
<circle cx="276.4" cy="358.7" r="0.99" fill="#161616"/>
<circle cx="286.8" cy="358.7" r="3.3" fill="#757575"/>
<circle cx="286.8" cy="358.7" r="0.99" fill="#161616"/>
<circle cx="312.3" cy="349.2" r="3.3" fill="#757575"/>
<circle cx="312.3" cy="349.2" r="0.99" fill="#161616"/>
<circle cx="322.5" cy="347.1" r="3.3" fill="#757575"/>
<circle cx="322.5" cy="347.1" r="0.99" fill="#161616"/>
<circle cx="327.9" cy="356" r="3.3" fill="#757575"/>
<circle cx="327.9" cy="356" r="0.99" fill="#161616"/>
<circle cx="307.3" cy="361.3" r="3.3" fill="#757575"/>
<circle cx="307.3" cy="361.3" r="0.99" fill="#161616"/>
<circle cx="315.6" cy="365.8" r="3.3" fill="#757575"/>
<circle cx="315.6" cy="365.8" r="0.99" fill="#161616"/>
</g>
<g id="panel-d">
<text x="373.7" y="217.6" font-family='"Liberation Serif","DejaVu Serif",serif' font-weight="bold" font-size="27" fill="#000">d</text>
<rect x="392.10" y="213.00" width="42" height="39.16" fill="#9cddb0"/>
<text transform="translate(411.09,228.98) scale(0.95,1)" text-anchor="middle" font-family='"DejaVu Sans","Liberation Sans",sans-serif' font-size="13.3" fill="#000" stroke="#000" stroke-width="0.18">CN</text>
<text transform="translate(413.10,244.08) scale(0.95,1)" text-anchor="middle" font-family='"DejaVu Sans","Liberation Sans",sans-serif' font-size="13.3" fill="#000" stroke="#000" stroke-width="0.18">0.555</text>
<rect x="392.10" y="251.86" width="42" height="37.41" fill="#e2d77f"/>
<text transform="translate(411.09,266.97) scale(0.95,1)" text-anchor="middle" font-family='"DejaVu Sans","Liberation Sans",sans-serif' font-size="13.3" fill="#000" stroke="#000" stroke-width="0.18">EMCI</text>
<text transform="translate(413.10,282.07) scale(0.95,1)" text-anchor="middle" font-family='"DejaVu Sans","Liberation Sans",sans-serif' font-size="13.3" fill="#000" stroke="#000" stroke-width="0.18">0.53</text>
<rect x="392.10" y="288.97" width="42" height="36.71" fill="#e4959c"/>
<text transform="translate(411.09,303.73) scale(0.95,1)" text-anchor="middle" font-family='"DejaVu Sans","Liberation Sans",sans-serif' font-size="13.3" fill="#000" stroke="#000" stroke-width="0.18">LMCI</text>
<text transform="translate(413.10,318.83) scale(0.95,1)" text-anchor="middle" font-family='"DejaVu Sans","Liberation Sans",sans-serif' font-size="13.3" fill="#000" stroke="#000" stroke-width="0.18">0.52</text>
<rect x="392.10" y="325.38" width="42" height="36.22" fill="#e62e60"/>
<text transform="translate(411.09,339.89) scale(0.95,1)" text-anchor="middle" font-family='"DejaVu Sans","Liberation Sans",sans-serif' font-size="13.3" fill="#000" stroke="#000" stroke-width="0.18">AD</text>
<text transform="translate(413.10,354.99) scale(0.95,1)" text-anchor="middle" font-family='"DejaVu Sans","Liberation Sans",sans-serif' font-size="13.3" fill="#000" stroke="#000" stroke-width="0.18">0.513</text>
<rect x="441.95" y="213.00" width="42" height="37.67" fill="#9cddb0"/>
<text transform="translate(460.94,228.24) scale(0.95,1)" text-anchor="middle" font-family='"DejaVu Sans","Liberation Sans",sans-serif' font-size="13.3" fill="#000" stroke="#000" stroke-width="0.18">CN</text>
<text transform="translate(462.95,243.34) scale(0.95,1)" text-anchor="middle" font-family='"DejaVu Sans","Liberation Sans",sans-serif' font-size="13.3" fill="#000" stroke="#000" stroke-width="0.18">3.156</text>
<rect x="441.95" y="250.37" width="42" height="41.02" fill="#e2d77f"/>
<text transform="translate(460.94,267.29) scale(0.95,1)" text-anchor="middle" font-family='"DejaVu Sans","Liberation Sans",sans-serif' font-size="13.3" fill="#000" stroke="#000" stroke-width="0.18">EMCI</text>
<text transform="translate(462.95,282.39) scale(0.95,1)" text-anchor="middle" font-family='"DejaVu Sans","Liberation Sans",sans-serif' font-size="13.3" fill="#000" stroke="#000" stroke-width="0.18">3.439</text>
<rect x="441.95" y="291.09" width="42" height="36.84" fill="#e4959c"/>
<text transform="translate(460.94,305.92) scale(0.95,1)" text-anchor="middle" font-family='"DejaVu Sans","Liberation Sans",sans-serif' font-size="13.3" fill="#000" stroke="#000" stroke-width="0.18">LMCI</text>
<text transform="translate(462.95,321.02) scale(0.95,1)" text-anchor="middle" font-family='"DejaVu Sans","Liberation Sans",sans-serif' font-size="13.3" fill="#000" stroke="#000" stroke-width="0.18">3.086</text>
<rect x="441.95" y="327.64" width="42" height="33.96" fill="#e62e60"/>
<text transform="translate(460.94,341.02) scale(0.95,1)" text-anchor="middle" font-family='"DejaVu Sans","Liberation Sans",sans-serif' font-size="13.3" fill="#000" stroke="#000" stroke-width="0.18">AD</text>
<text transform="translate(462.95,356.12) scale(0.95,1)" text-anchor="middle" font-family='"DejaVu Sans","Liberation Sans",sans-serif' font-size="13.3" fill="#000" stroke="#000" stroke-width="0.18">2.843</text>
<rect x="491.80" y="213.00" width="42" height="37.33" fill="#9cddb0"/>
<text transform="translate(510.79,228.07) scale(0.95,1)" text-anchor="middle" font-family='"DejaVu Sans","Liberation Sans",sans-serif' font-size="13.3" fill="#000" stroke="#000" stroke-width="0.18">CN</text>
<text transform="translate(512.80,243.17) scale(0.95,1)" text-anchor="middle" font-family='"DejaVu Sans","Liberation Sans",sans-serif' font-size="13.3" fill="#000" stroke="#000" stroke-width="0.18">0.379</text>
<rect x="491.80" y="250.03" width="42" height="35.08" fill="#e2d77f"/>
<text transform="translate(510.79,263.97) scale(0.95,1)" text-anchor="middle" font-family='"DejaVu Sans","Liberation Sans",sans-serif' font-size="13.3" fill="#000" stroke="#000" stroke-width="0.18">EMCI</text>
<text transform="translate(512.80,279.07) scale(0.95,1)" text-anchor="middle" font-family='"DejaVu Sans","Liberation Sans",sans-serif' font-size="13.3" fill="#000" stroke="#000" stroke-width="0.18">0.356</text>
<rect x="491.80" y="284.81" width="42" height="37.62" fill="#e4959c"/>
<text transform="translate(510.79,300.02) scale(0.95,1)" text-anchor="middle" font-family='"DejaVu Sans","Liberation Sans",sans-serif' font-size="13.3" fill="#000" stroke="#000" stroke-width="0.18">LMCI</text>
<text transform="translate(512.80,315.12) scale(0.95,1)" text-anchor="middle" font-family='"DejaVu Sans","Liberation Sans",sans-serif' font-size="13.3" fill="#000" stroke="#000" stroke-width="0.18">0.382</text>
<rect x="491.80" y="322.12" width="42" height="39.48" fill="#e62e60"/>
<text transform="translate(510.79,338.27) scale(0.95,1)" text-anchor="middle" font-family='"DejaVu Sans","Liberation Sans",sans-serif' font-size="13.3" fill="#000" stroke="#000" stroke-width="0.18">AD</text>
<text transform="translate(512.80,353.37) scale(0.95,1)" text-anchor="middle" font-family='"DejaVu Sans","Liberation Sans",sans-serif' font-size="13.3" fill="#000" stroke="#000" stroke-width="0.18">0.401</text>
<rect x="541.65" y="213.00" width="42" height="38.42" fill="#9cddb0"/>
<text transform="translate(560.64,228.61) scale(0.95,1)" text-anchor="middle" font-family='"DejaVu Sans","Liberation Sans",sans-serif' font-size="13.3" fill="#000" stroke="#000" stroke-width="0.18">CN</text>
<text transform="translate(562.65,243.71) scale(0.95,1)" text-anchor="middle" font-family='"DejaVu Sans","Liberation Sans",sans-serif' font-size="13.3" fill="#000" stroke="#000" stroke-width="0.18">0.751</text>
<rect x="541.65" y="251.12" width="42" height="36.89" fill="#e2d77f"/>
<text transform="translate(560.64,265.97) scale(0.95,1)" text-anchor="middle" font-family='"DejaVu Sans","Liberation Sans",sans-serif' font-size="13.3" fill="#000" stroke="#000" stroke-width="0.18">EMCI</text>
<text transform="translate(562.65,281.07) scale(0.95,1)" text-anchor="middle" font-family='"DejaVu Sans","Liberation Sans",sans-serif' font-size="13.3" fill="#000" stroke="#000" stroke-width="0.18">0.721</text>
<rect x="541.65" y="287.71" width="42" height="36.99" fill="#e4959c"/>
<text transform="translate(560.64,302.61) scale(0.95,1)" text-anchor="middle" font-family='"DejaVu Sans","Liberation Sans",sans-serif' font-size="13.3" fill="#000" stroke="#000" stroke-width="0.18">LMCI</text>
<text transform="translate(562.65,317.71) scale(0.95,1)" text-anchor="middle" font-family='"DejaVu Sans","Liberation Sans",sans-serif' font-size="13.3" fill="#000" stroke="#000" stroke-width="0.18">0.723</text>
<rect x="541.65" y="324.40" width="42" height="37.20" fill="#e62e60"/>
<text transform="translate(560.64,339.41) scale(0.95,1)" text-anchor="middle" font-family='"DejaVu Sans","Liberation Sans",sans-serif' font-size="13.3" fill="#000" stroke="#000" stroke-width="0.18">AD</text>
<text transform="translate(562.65,354.51) scale(0.95,1)" text-anchor="middle" font-family='"DejaVu Sans","Liberation Sans",sans-serif' font-size="13.3" fill="#000" stroke="#000" stroke-width="0.18">0.727</text>
<rect x="591.50" y="213.00" width="42" height="36.97" fill="#9cddb0"/>
<text transform="translate(610.49,227.89) scale(0.95,1)" text-anchor="middle" font-family='"DejaVu Sans","Liberation Sans",sans-serif' font-size="13.3" fill="#000" stroke="#000" stroke-width="0.18">CN</text>
<text transform="translate(612.50,242.99) scale(0.95,1)" text-anchor="middle" font-family='"DejaVu Sans","Liberation Sans",sans-serif' font-size="13.3" fill="#000" stroke="#000" stroke-width="0.18">3.673</text>
<rect x="591.50" y="249.67" width="42" height="34.53" fill="#e2d77f"/>
<text transform="translate(610.49,263.34) scale(0.95,1)" text-anchor="middle" font-family='"DejaVu Sans","Liberation Sans",sans-serif' font-size="13.3" fill="#000" stroke="#000" stroke-width="0.18">EMCI</text>
<text transform="translate(612.50,278.44) scale(0.95,1)" text-anchor="middle" font-family='"DejaVu Sans","Liberation Sans",sans-serif' font-size="13.3" fill="#000" stroke="#000" stroke-width="0.18">3.429</text>
<rect x="591.50" y="283.90" width="42" height="37.00" fill="#e4959c"/>
<text transform="translate(610.49,298.80) scale(0.95,1)" text-anchor="middle" font-family='"DejaVu Sans","Liberation Sans",sans-serif' font-size="13.3" fill="#000" stroke="#000" stroke-width="0.18">LMCI</text>
<text transform="translate(612.50,313.90) scale(0.95,1)" text-anchor="middle" font-family='"DejaVu Sans","Liberation Sans",sans-serif' font-size="13.3" fill="#000" stroke="#000" stroke-width="0.18">3.676</text>
<rect x="591.50" y="320.60" width="42" height="41.00" fill="#e62e60"/>
<text transform="translate(610.49,337.50) scale(0.95,1)" text-anchor="middle" font-family='"DejaVu Sans","Liberation Sans",sans-serif' font-size="13.3" fill="#000" stroke="#000" stroke-width="0.18">AD</text>
<text transform="translate(612.50,352.60) scale(0.95,1)" text-anchor="middle" font-family='"DejaVu Sans","Liberation Sans",sans-serif' font-size="13.3" fill="#000" stroke="#000" stroke-width="0.18">4.077</text>
<rect x="641.35" y="213.00" width="42" height="46.48" fill="#9cddb0"/>
<text transform="translate(660.34,232.64) scale(0.95,1)" text-anchor="middle" font-family='"DejaVu Sans","Liberation Sans",sans-serif' font-size="13.3" fill="#000" stroke="#000" stroke-width="0.18">CN</text>
<text transform="translate(662.35,247.74) scale(0.95,1)" text-anchor="middle" font-family='"DejaVu Sans","Liberation Sans",sans-serif' font-size="13.3" fill="#000" stroke="#000" stroke-width="0.18">0.624</text>
<rect x="641.35" y="259.18" width="42" height="41.08" fill="#e2d77f"/>
<text transform="translate(660.34,276.12) scale(0.95,1)" text-anchor="middle" font-family='"DejaVu Sans","Liberation Sans",sans-serif' font-size="13.3" fill="#000" stroke="#000" stroke-width="0.18">EMCI</text>
<text transform="translate(662.35,291.22) scale(0.95,1)" text-anchor="middle" font-family='"DejaVu Sans","Liberation Sans",sans-serif' font-size="13.3" fill="#000" stroke="#000" stroke-width="0.18">0.551</text>
<rect x="641.35" y="299.95" width="42" height="40.04" fill="#e4959c"/>
<text transform="translate(660.34,316.38) scale(0.95,1)" text-anchor="middle" font-family='"DejaVu Sans","Liberation Sans",sans-serif' font-size="13.3" fill="#000" stroke="#000" stroke-width="0.18">LMCI</text>
<text transform="translate(662.35,331.48) scale(0.95,1)" text-anchor="middle" font-family='"DejaVu Sans","Liberation Sans",sans-serif' font-size="13.3" fill="#000" stroke="#000" stroke-width="0.18">0.537</text>
<rect x="641.35" y="339.69" width="42" height="21.91" fill="#e62e60"/>
<text transform="translate(662.05,349.41) scale(0.95,1)" text-anchor="middle" font-family='"DejaVu Sans","Liberation Sans",sans-serif' font-size="9.9" fill="#000" stroke="#000" stroke-width="0.18">AD</text>
<text transform="translate(663.55,360.61) scale(0.95,1)" text-anchor="middle" font-family='"DejaVu Sans","Liberation Sans",sans-serif' font-size="9.9" fill="#000" stroke="#000" stroke-width="0.18">0.292</text>
<text x="413.10" y="375.0" text-anchor="middle" word-spacing="0.7" font-family='"Liberation Serif","DejaVu Serif",serif' font-size="12.3" fill="#444">&lt; <tspan font-style="italic">C</tspan> &gt;</text>
<text x="463.95" y="375.0" text-anchor="middle" word-spacing="0.7" font-family='"Liberation Serif","DejaVu Serif",serif' font-size="12.3" fill="#444">&lt; <tspan font-style="italic">l</tspan> &gt;</text>
<text x="511.30" y="374.8" text-anchor="middle" font-family='"Liberation Serif","DejaVu Serif",serif' font-size="9.9" fill="#1c1c1c">Global</text>
<text x="511.30" y="386.0" text-anchor="middle" font-family='"Liberation Serif","DejaVu Serif",serif' font-size="9.9" fill="#1c1c1c">Efficiency</text>
<text x="562.95" y="374.8" text-anchor="middle" font-family='"Liberation Serif","DejaVu Serif",serif' font-size="9.9" fill="#1c1c1c">Local</text>
<text x="562.95" y="386.0" text-anchor="middle" font-family='"Liberation Serif","DejaVu Serif",serif' font-size="9.9" fill="#1c1c1c">Efficiency</text>
<text x="611.90" y="375.0" text-anchor="middle" word-spacing="0.7" font-family='"Liberation Serif","DejaVu Serif",serif' font-size="12.3" fill="#444"><tspan font-style="italic">σ</tspan></text>
<text x="661.75" y="375.0" text-anchor="middle" word-spacing="0.7" font-family='"Liberation Serif","DejaVu Serif",serif' font-size="12.3" fill="#444"><tspan font-style="italic">r</tspan></text>
</g>
</svg>
</body>
</html>
